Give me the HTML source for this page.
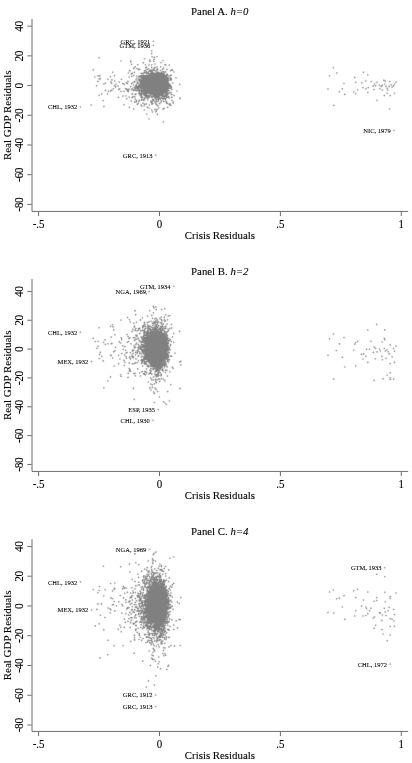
<!DOCTYPE html>
<html><head><meta charset="utf-8"><title>Figure</title>
<style>html,body{margin:0;padding:0;background:#fff;}body{width:412px;height:763px;overflow:hidden;font-family:"Liberation Serif",serif;}</style>
</head><body>
<svg width="412" height="763" viewBox="0 0 412 763" style="display:block;will-change:transform">
<defs><filter id="b" x="0" y="0" width="412" height="763" filterUnits="userSpaceOnUse"><feConvolveMatrix order="3" kernelMatrix="0.012 0.072 0.012 0.072 0.664 0.072 0.012 0.072 0.012" edgeMode="none"/></filter></defs>
<g filter="url(#b)"><path d="M146.8 76.7L150.4 75.3L154.7 73.1L159.8 72.4L164.1 73.8L167.0 77.4L168.0 82.5L167.7 87.5L165.6 91.9L161.2 94.8L156.1 95.8L151.8 94.8L148.2 91.9L144.6 89.7L141.7 87.5L140.7 84.0L141.3 80.3L143.9 78.2Z" fill="#808080" stroke="#808080" stroke-width="0.6" stroke-linejoin="round"/><path d="M147.7 91.8h0M168.5 80.8h0M143.0 87.3h0M144.4 90.9h0M157.0 97.3h0M168.5 85.1h0M165.9 80.2h0M149.1 77.0h0M156.7 94.8h0M151.4 73.7h0M157.0 96.4h0M155.1 74.1h0M166.8 86.8h0M159.3 73.9h0M153.1 94.6h0M170.6 78.8h0M163.3 92.9h0M163.7 91.3h0M142.9 94.0h0M156.7 72.0h0M140.9 87.3h0M168.9 76.2h0M147.9 77.3h0M147.9 90.5h0M143.1 90.4h0M153.3 95.7h0M167.4 90.2h0M170.3 75.3h0M156.3 94.8h0M137.3 82.9h0M142.3 91.4h0M168.0 82.5h0M164.1 72.1h0M146.5 93.8h0M162.3 74.0h0M147.2 92.4h0M167.0 86.1h0M148.3 72.0h0M159.7 94.5h0M166.0 87.4h0M167.7 89.9h0M163.9 91.3h0M144.8 77.9h0M155.2 96.4h0M142.0 81.4h0M146.5 75.2h0M159.0 95.1h0M157.7 96.6h0M147.1 95.9h0M149.6 75.3h0M149.6 76.4h0M143.0 87.7h0M166.6 89.4h0M142.4 82.2h0M150.6 95.0h0M163.6 93.4h0M157.5 72.8h0M139.9 81.5h0M142.8 87.8h0M150.8 92.6h0M161.6 73.5h0M141.0 89.0h0M162.9 96.7h0M167.2 84.3h0M166.7 85.5h0M143.3 90.3h0M146.5 90.7h0M162.6 93.5h0M167.4 86.8h0M170.0 88.5h0M141.7 78.2h0M139.6 76.1h0M166.8 76.1h0M167.5 83.8h0M146.9 75.3h0M165.7 87.8h0M167.5 77.5h0M150.9 93.1h0M170.5 86.5h0M149.4 91.8h0M152.5 75.4h0M161.0 93.4h0M167.0 89.2h0M161.3 97.8h0M142.8 87.7h0M164.2 91.4h0M146.5 76.7h0M147.1 91.4h0M166.3 87.3h0M171.2 86.6h0M151.8 72.8h0M147.4 76.6h0M143.7 90.7h0M140.1 80.6h0M168.8 84.2h0M140.2 87.7h0M148.3 90.9h0M162.4 93.5h0M162.9 94.2h0M166.8 90.5h0M168.5 83.8h0M145.5 89.4h0M141.8 92.3h0M146.6 76.8h0M166.7 87.9h0M143.7 87.7h0M137.6 88.1h0M142.2 80.4h0M151.6 75.6h0M141.7 86.3h0M141.5 86.1h0M148.0 92.9h0M168.6 84.1h0M156.2 74.1h0M167.0 78.3h0M145.4 93.2h0M144.0 93.1h0M144.7 75.9h0M142.1 82.5h0M157.6 95.5h0M150.1 75.5h0M166.0 86.7h0M160.0 94.0h0M156.8 72.6h0M162.3 74.1h0M163.5 91.6h0M149.3 74.8h0M166.7 84.7h0M145.0 94.8h0M145.0 90.9h0M168.9 80.0h0M142.2 77.6h0M155.5 98.4h0M139.9 79.4h0M142.2 78.1h0M158.1 98.1h0M151.1 92.6h0M171.0 92.3h0M152.9 74.2h0M157.0 74.1h0M167.5 75.2h0M150.5 95.4h0M150.8 74.7h0M151.1 73.1h0M140.4 83.4h0M164.9 90.5h0M155.9 97.5h0M158.5 96.2h0M167.3 85.4h0M143.7 90.6h0M144.1 79.8h0M169.5 88.1h0M147.0 91.5h0M155.7 94.5h0M143.5 90.6h0M151.3 74.7h0M151.0 75.2h0M148.3 92.0h0M140.9 87.6h0M165.4 78.1h0M147.0 77.9h0M146.4 76.2h0M137.0 86.2h0M143.4 78.9h0M163.5 92.6h0M141.7 85.2h0M167.5 81.2h0M166.5 83.2h0M151.8 97.4h0M152.0 93.6h0M150.9 70.4h0M164.6 76.3h0M149.5 93.1h0M152.9 93.7h0M166.1 84.8h0M146.6 78.0h0M151.7 93.1h0M166.4 89.6h0M169.6 84.0h0M163.0 91.6h0M169.4 92.7h0M151.7 73.9h0M142.1 79.2h0M144.2 76.0h0M165.6 89.4h0M156.5 98.9h0M146.1 96.6h0M147.7 77.5h0M144.9 90.6h0M156.7 94.2h0M171.3 75.2h0M142.6 85.8h0M141.9 97.9h0M139.5 91.6h0M156.4 96.9h0M157.3 68.9h0M167.6 79.2h0M169.1 83.8h0M148.8 77.1h0M169.0 85.3h0M166.2 85.7h0M165.1 92.1h0M148.1 75.6h0M143.6 79.4h0M171.4 78.9h0M163.5 93.4h0M140.2 90.5h0M152.2 71.1h0M153.9 70.1h0M166.4 83.0h0M147.2 96.8h0M139.9 94.0h0M138.5 83.2h0M152.2 93.9h0M141.0 86.3h0M142.3 86.9h0M143.7 87.4h0M153.4 93.8h0M143.7 88.2h0M139.4 85.8h0M169.0 88.0h0M166.9 91.7h0M146.4 77.9h0M163.3 92.0h0M153.2 69.3h0M148.5 76.2h0M153.5 73.7h0M165.3 89.5h0M166.1 86.0h0M149.2 91.8h0M167.1 78.0h0M155.3 96.3h0M153.7 94.5h0M154.2 73.4h0M168.7 85.4h0M147.1 90.6h0M156.7 96.1h0M148.5 77.3h0M147.1 90.0h0M144.5 88.4h0M145.5 90.3h0M139.3 87.2h0M147.9 98.3h0M149.3 70.4h0M145.9 91.6h0M144.6 77.3h0M156.4 74.1h0M147.1 91.8h0M151.5 74.3h0M142.3 84.0h0M168.6 84.2h0M141.2 87.9h0M152.3 73.8h0M166.9 86.4h0M171.1 80.0h0M153.0 74.0h0M167.3 93.8h0M142.8 86.7h0M158.9 98.7h0M147.1 90.5h0M162.2 93.5h0M142.8 86.4h0M163.8 76.4h0M146.8 96.6h0M140.8 81.4h0M164.4 91.7h0M151.1 74.4h0M145.5 91.6h0M148.1 92.6h0M164.1 91.5h0M164.0 91.0h0M166.1 84.3h0M151.9 71.6h0M142.2 78.2h0M142.4 87.4h0M148.5 76.4h0M163.3 96.4h0M160.9 93.9h0M146.4 90.4h0M150.0 93.7h0M147.2 93.1h0M144.5 79.4h0M167.0 93.0h0M155.3 70.8h0M167.0 82.3h0M154.0 94.9h0M148.5 96.6h0M147.8 91.6h0M166.1 87.1h0M166.9 78.5h0M142.6 97.2h0M144.7 104.2h0M153.0 96.4h0M153.5 94.5h0M142.3 86.6h0M142.5 85.6h0M145.6 76.8h0M149.2 76.5h0M166.1 86.4h0M168.4 86.0h0M167.3 88.4h0M147.9 92.3h0M165.7 95.6h0M166.9 82.7h0M143.5 88.5h0M148.6 95.9h0M159.9 93.8h0M140.5 76.2h0M152.0 71.9h0M167.6 89.2h0M166.0 78.0h0M158.0 94.7h0M148.8 91.0h0M142.1 88.6h0M141.9 90.0h0M161.5 94.2h0M166.4 85.9h0M144.6 92.9h0M142.9 86.5h0M139.2 85.0h0M170.2 77.8h0M150.9 92.5h0M166.1 88.9h0M143.9 87.9h0M147.9 91.6h0M142.3 76.6h0M146.2 89.3h0M159.2 73.6h0M141.5 84.7h0M144.3 93.5h0M138.7 86.4h0M139.8 87.1h0M168.1 86.8h0M150.8 95.5h0M162.0 92.5h0M147.8 77.1h0M166.3 91.6h0M163.0 94.3h0M139.9 76.9h0M167.4 86.5h0M149.2 91.3h0M165.2 88.6h0M147.5 76.6h0M146.7 78.1h0M151.0 96.0h0M148.9 73.5h0M137.8 86.7h0M141.7 85.5h0M145.3 91.7h0M162.1 92.9h0M165.3 88.9h0M166.3 87.5h0M148.1 96.5h0M143.1 78.0h0M151.7 75.6h0M157.6 95.7h0M165.8 89.3h0M166.5 80.6h0M139.0 87.5h0M147.1 73.4h0M160.9 94.0h0M167.1 83.5h0M149.3 97.5h0M143.3 78.3h0M146.9 75.1h0M161.1 94.4h0M143.5 90.6h0M166.8 79.4h0M167.6 83.9h0M165.0 77.7h0M146.3 78.0h0M162.0 92.3h0M145.0 97.7h0M141.3 88.4h0M151.6 73.4h0M157.0 70.3h0M152.8 94.4h0M160.2 74.0h0M149.9 93.4h0M160.1 95.1h0M142.8 77.7h0M146.0 89.5h0M137.6 87.6h0M150.0 74.0h0M142.8 86.4h0M141.7 93.9h0M141.3 88.7h0M142.4 73.7h0M165.5 89.2h0M145.6 89.8h0M168.2 86.8h0M141.6 93.3h0M149.6 92.6h0M159.7 95.3h0M141.1 73.2h0M142.6 79.0h0M147.7 76.6h0M156.9 101.7h0M168.1 93.0h0M146.9 75.9h0M148.9 90.8h0M165.4 93.4h0M141.5 80.2h0M164.0 76.1h0M171.3 87.6h0M143.3 76.6h0M147.5 77.7h0M148.0 91.5h0M142.9 79.6h0M148.5 77.3h0M138.7 87.8h0M160.5 70.5h0M162.1 96.4h0M163.5 98.7h0M143.0 87.5h0M167.2 87.7h0M148.7 77.0h0M169.7 86.2h0M151.6 71.9h0M140.1 81.3h0M138.1 103.5h0M142.1 81.6h0M146.1 98.0h0M145.6 78.5h0M147.8 95.5h0M150.1 92.2h0M168.6 96.6h0M160.7 66.8h0M149.3 96.2h0M167.6 86.9h0M164.0 73.4h0M139.5 86.6h0M144.4 92.8h0M145.8 72.7h0M169.5 104.7h0M170.7 79.0h0M157.8 96.9h0M144.4 78.6h0M133.3 89.8h0M163.0 71.6h0M169.0 84.4h0M157.3 70.1h0M138.7 85.4h0M158.0 99.7h0M152.8 74.9h0M149.9 91.6h0M166.4 96.1h0M142.9 103.5h0M138.6 79.2h0M153.7 73.0h0M151.7 97.2h0M152.9 74.4h0M157.5 73.2h0M141.1 75.5h0M158.1 73.5h0M165.7 71.8h0M165.5 88.8h0M141.7 81.7h0M162.7 69.3h0M144.2 90.0h0M165.0 99.1h0M138.6 76.8h0M145.5 95.9h0M141.7 91.8h0M140.9 94.0h0M167.3 80.1h0M142.9 80.5h0M140.2 79.1h0M145.5 88.8h0M171.8 94.7h0M172.6 70.2h0M147.2 91.9h0M171.0 88.0h0M146.7 76.1h0M158.1 94.7h0M141.6 78.1h0M156.9 96.1h0M149.0 93.9h0M149.1 93.6h0M156.4 73.2h0M154.8 97.4h0M166.4 92.7h0M144.4 99.0h0M165.8 64.7h0M146.3 95.6h0M139.1 80.2h0M142.6 86.2h0M171.8 69.9h0M144.3 98.3h0M166.2 97.3h0M146.0 75.5h0M166.2 75.5h0M156.7 74.0h0M148.2 90.9h0M133.5 85.0h0M133.1 96.6h0M133.6 68.0h0M156.2 73.5h0M143.5 93.8h0M132.1 97.6h0M144.4 70.8h0M122.8 96.1h0M159.6 95.8h0M165.8 92.9h0M141.7 91.2h0M169.0 104.2h0M141.9 86.1h0M159.2 96.0h0M164.5 92.0h0M147.5 91.4h0M166.3 101.7h0M165.0 89.2h0M145.4 70.5h0M169.3 65.1h0M169.6 85.3h0M167.6 88.6h0M145.6 67.7h0M167.3 97.3h0M135.9 93.9h0M164.5 91.0h0M156.4 73.4h0M154.4 68.6h0M143.3 100.0h0M141.5 81.1h0M155.9 97.0h0M166.4 80.8h0M141.7 106.0h0M148.2 73.1h0M171.7 97.2h0M144.3 89.4h0M152.0 104.2h0M164.3 98.1h0M148.1 92.9h0M162.7 98.6h0M172.7 83.0h0M153.2 74.6h0M166.6 80.7h0M159.7 95.3h0M162.2 94.6h0M158.3 72.4h0M133.8 90.4h0M143.1 92.0h0M167.8 91.0h0M131.1 74.0h0M148.5 91.0h0M166.2 94.8h0M162.1 92.2h0M137.4 90.5h0M161.6 73.2h0M148.4 91.3h0M131.6 64.3h0M140.0 95.0h0M154.4 96.4h0M151.0 76.2h0M170.5 80.0h0M154.1 73.6h0M165.9 92.2h0M147.2 92.0h0M167.3 74.4h0M162.6 74.1h0M148.7 91.6h0M160.9 102.1h0M139.7 93.1h0M153.0 101.0h0M164.7 95.0h0M167.9 94.4h0M139.7 79.0h0M142.2 88.8h0M163.2 95.3h0M134.0 68.6h0M162.2 93.6h0M154.7 74.2h0M148.9 76.0h0M151.2 70.0h0M171.3 78.5h0M172.1 97.2h0M171.9 100.3h0M156.2 100.1h0M139.7 69.4h0M167.9 97.2h0M152.5 93.7h0M169.4 84.0h0M147.5 90.5h0M154.1 95.6h0M136.8 76.0h0M167.0 84.0h0M152.8 73.1h0M149.9 76.6h0M161.7 72.3h0M138.9 91.8h0M139.4 93.3h0M166.7 75.6h0M141.1 81.4h0M152.5 93.8h0M157.5 96.1h0M159.0 94.2h0M164.3 97.6h0M130.6 86.6h0M137.7 87.3h0M136.0 88.2h0M149.4 70.8h0M168.9 90.6h0M168.6 78.2h0M149.1 91.7h0M165.8 76.1h0M168.3 88.6h0M145.3 93.7h0M166.7 86.1h0M157.2 97.2h0M143.8 93.9h0M139.7 90.9h0M166.6 74.2h0M148.3 91.3h0M142.2 85.2h0M144.8 77.8h0M147.4 107.3h0M157.3 68.7h0M143.0 73.3h0M164.6 76.5h0M171.9 89.4h0M141.6 91.9h0M166.6 86.2h0M167.7 82.6h0M170.4 85.3h0M134.4 72.4h0M150.7 75.2h0M170.5 70.7h0M118.1 86.1h0M164.8 76.4h0M167.3 89.5h0M147.8 91.6h0M146.0 96.3h0M134.9 102.0h0M143.9 77.5h0M136.5 84.5h0M146.4 71.9h0M137.7 64.7h0M141.0 96.9h0M146.9 77.6h0M146.9 69.4h0M146.6 79.7h0M143.6 88.0h0M145.6 86.1h0M146.2 103.9h0M144.9 82.7h0M132.0 94.0h0M127.4 90.9h0M144.7 72.6h0M143.9 94.1h0M141.5 85.3h0M146.1 84.7h0M127.5 83.5h0M146.6 95.1h0M138.6 89.9h0M138.1 90.1h0M139.9 87.4h0M141.3 84.6h0M146.5 67.0h0M142.5 75.5h0M132.2 88.5h0M141.4 81.6h0M128.3 90.1h0M130.0 70.8h0M141.7 77.1h0M144.6 94.9h0M145.8 76.2h0M135.1 89.7h0M137.2 87.6h0M136.0 85.5h0M135.2 88.1h0M143.4 92.5h0M142.7 78.4h0M142.0 90.7h0M141.7 90.3h0M140.9 85.5h0M143.7 75.2h0M130.7 61.8h0M146.1 92.9h0M136.1 79.9h0M133.0 82.5h0M134.7 96.9h0M146.1 93.4h0M129.1 89.1h0M141.3 95.7h0M143.4 80.7h0M137.2 86.7h0M140.9 93.5h0M146.9 80.1h0M134.8 81.9h0M136.4 101.7h0M141.5 83.1h0M146.2 87.6h0M127.2 89.6h0M145.6 88.7h0M142.0 91.0h0M145.2 87.3h0M144.3 110.0h0M136.9 78.2h0M144.1 81.3h0M139.4 100.3h0M146.8 83.0h0M144.5 58.7h0M138.8 101.7h0M137.0 68.6h0M140.3 83.0h0M136.5 86.9h0M135.3 94.6h0M135.3 99.1h0M144.2 95.4h0M146.7 95.2h0M137.4 86.8h0M138.6 69.4h0M144.0 73.0h0M131.8 76.2h0M144.7 83.6h0M136.5 90.6h0M141.1 87.7h0M143.3 80.8h0M134.1 87.7h0M142.5 82.1h0M144.4 77.8h0M137.0 88.7h0M143.7 92.0h0M135.4 86.4h0M139.6 84.9h0M144.6 78.4h0M141.0 94.3h0M125.9 96.0h0M143.3 80.7h0M141.8 99.8h0M130.8 61.0h0M138.8 89.0h0M129.2 97.1h0M141.2 94.8h0M137.4 104.4h0M125.6 88.7h0M140.8 87.6h0M144.1 89.5h0M145.0 90.0h0M139.2 89.5h0M141.9 96.7h0M131.5 90.0h0M137.5 90.3h0M139.2 85.6h0M136.5 100.6h0M137.5 81.2h0M126.7 98.8h0M143.9 100.4h0M135.3 90.3h0M131.6 83.6h0M132.6 93.8h0M144.2 78.5h0M138.9 93.7h0M141.7 85.4h0M134.4 81.5h0M99.1 57.8h0M121.0 61.0h0M93.3 69.8h0M94.8 77.0h0M98.1 75.9h0M99.9 75.9h0M99.1 78.8h0M100.3 78.8h0M97.8 81.4h0M96.6 85.8h0M103.9 84.0h0M105.4 83.2h0M107.9 79.2h0M110.5 76.7h0M112.7 72.2h0M114.6 75.6h0M111.9 79.9h0M110.9 82.1h0M111.6 83.2h0M114.9 81.1h0M116.0 84.3h0M114.6 85.8h0M115.6 86.9h0M105.4 90.4h0M108.3 91.3h0M110.5 90.9h0M111.9 90.1h0M113.4 88.7h0M99.1 95.2h0M101.7 94.1h0M107.6 94.1h0M103.2 100.6h0M103.9 106.6h0M91.1 105.1h0M118.5 97.4h0M119.9 88.7h0M118.8 89.4h0M121.0 91.6h0M119.2 82.1h0M121.4 79.2h0M122.9 83.6h0M124.3 84.3h0M126.5 82.9h0M128.0 81.4h0M124.0 91.3h0M126.5 88.7h0M128.4 91.6h0M124.0 104.7h0M129.4 107.3h0M133.8 109.1h0M131.3 101.1h0M134.5 102.1h0M135.2 66.8h0M143.2 62.8h0M129.4 70.5h0M128.4 73.0h0M132.3 73.4h0M133.8 75.6h0M129.1 77.0h0M151.7 51.0h0M151.7 53.6h0M152.1 56.7h0M154.4 57.4h0M157.0 56.7h0M154.0 59.4h0M153.7 61.4h0M149.7 60.0h0M150.0 61.4h0M155.0 64.0h0M151.7 64.7h0M149.0 65.1h0M143.3 62.7h0M145.4 64.7h0M148.4 68.7h0M151.7 67.4h0M155.0 67.4h0M157.0 67.0h0M161.0 62.7h0M163.0 60.7h0M165.0 64.7h0M163.7 68.0h0M167.0 69.4h0M174.0 72.0h0M157.7 69.4h0M153.0 70.7h0M150.4 71.4h0M162.5 95.4h0M145.5 96.1h0M152.0 103.8h0M155.9 103.9h0M157.7 96.6h0M154.8 95.6h0M152.6 96.3h0M168.2 97.2h0M167.2 95.1h0M155.0 95.5h0M167.4 103.0h0M159.4 103.5h0M156.6 95.3h0M160.0 95.4h0M161.2 95.4h0M164.9 96.3h0M173.3 103.1h0M154.9 96.2h0M152.9 103.5h0M153.5 95.9h0M141.3 100.1h0M155.7 96.0h0M166.0 101.9h0M159.7 98.8h0M157.3 95.7h0M151.8 102.2h0M158.9 98.3h0M164.4 96.7h0M160.3 98.5h0M154.6 96.2h0M159.1 97.2h0M157.2 97.3h0M165.6 98.6h0M163.2 99.1h0M152.1 97.3h0M152.8 99.2h0M159.8 103.6h0M161.6 95.5h0M158.3 101.0h0M150.9 101.0h0M160.7 98.5h0M155.7 102.1h0M143.1 103.3h0M154.0 100.5h0M141.0 105.0h0M144.1 106.0h0M149.0 108.0h0M149.4 105.0h0M151.0 102.4h0M152.4 100.7h0M151.7 110.0h0M152.4 112.0h0M155.0 109.4h0M155.7 111.8h0M156.4 111.0h0M157.0 105.1h0M158.0 106.0h0M158.8 108.0h0M157.0 109.4h0M146.7 114.0h0M157.4 114.4h0M149.0 119.0h0M163.3 122.0h0M163.0 109.1h0M164.1 108.3h0M167.7 107.4h0M170.8 105.4h0M170.0 103.8h0M166.8 103.4h0M173.1 102.0h0M169.4 98.0h0M174.1 95.3h0M180.0 98.7h0M171.0 94.0h0M161.7 100.7h0M158.4 100.7h0M155.0 102.0h0M153.7 99.3h0M147.7 100.0h0M160.4 99.3h0M165.7 100.0h0M163.7 101.4h0M179.8 84.3h0M180.0 98.0h0M176.0 78.0h0M177.0 91.0h0M333.4 67.7h0M329.5 75.7h0M336.8 73.1h0M328.0 89.1h0M333.8 105.3h0M344.0 83.5h0M342.3 88.8h0M339.4 91.7h0M344.8 94.4h0M354.7 77.4h0M355.7 82.3h0M353.7 92.0h0M355.7 93.7h0M357.6 90.0h0M361.8 82.8h0M363.5 72.3h0M367.8 75.0h0M365.9 81.1h0M371.2 81.6h0M363.0 87.6h0M365.9 88.8h0M368.3 87.6h0M367.8 92.5h0M373.2 85.9h0M374.6 84.0h0M377.0 82.3h0M375.6 85.7h0M373.9 89.6h0M377.0 100.2h0M379.5 85.2h0M381.2 86.4h0M382.4 85.2h0M383.8 80.3h0M385.3 81.1h0M384.8 84.0h0M386.0 86.4h0M382.4 90.0h0M384.3 95.6h0M387.2 88.3h0M387.7 90.0h0M389.2 86.4h0M389.7 81.6h0M391.1 84.7h0M392.1 87.1h0M393.6 85.9h0M394.5 84.0h0M396.0 82.0h0M394.5 93.2h0M390.2 95.6h0M389.7 109.0h0M387.2 93.2h0M380.0 88.8h0M153.4 41.2h0M153.4 45.5h0M80.4 107.0h0M155.7 155.1h0M394.0 130.5h0" stroke="#808080" stroke-width="1.65" stroke-linecap="round" fill="none"/></g>
<path d="M32.0 19.0V211.43H408.2" stroke="#484848" stroke-width="0.8" fill="none"/>
<g stroke="#3a3a3a" stroke-width="0.75" fill="none">
<path d="M27.4 26.15H31.5"/>
<path d="M27.4 55.86H31.5"/>
<path d="M27.4 85.57H31.5"/>
<path d="M27.4 115.28H31.5"/>
<path d="M27.4 144.98H31.5"/>
<path d="M27.4 174.69H31.5"/>
<path d="M27.4 204.40H31.5"/>
<path d="M38.60 211.93V216.03"/>
<path d="M159.50 211.93V216.03"/>
<path d="M280.40 211.93V216.03"/>
<path d="M401.30 211.93V216.03"/>
</g>
<g font-family='"Liberation Serif", serif' font-size="11.8" fill="#000" stroke="#000" stroke-width="0.12" text-anchor="middle">
<text letter-spacing="-0.42" transform="translate(23.0 26.45) rotate(-90) scale(0.965 1)">40</text>
<text letter-spacing="-0.42" transform="translate(23.0 56.16) rotate(-90) scale(0.965 1)">20</text>
<text letter-spacing="-0.42" transform="translate(23.0 85.87) rotate(-90) scale(0.965 1)">0</text>
<text letter-spacing="-0.42" transform="translate(23.0 115.58) rotate(-90) scale(0.965 1)">-20</text>
<text letter-spacing="-0.42" transform="translate(23.0 145.28) rotate(-90) scale(0.965 1)">-40</text>
<text letter-spacing="-0.42" transform="translate(23.0 174.99) rotate(-90) scale(0.965 1)">-60</text>
<text letter-spacing="-0.42" transform="translate(23.0 204.70) rotate(-90) scale(0.965 1)">-80</text>
<text transform="translate(38.60 227.95) scale(0.93 1)">-.5</text>
<text transform="translate(159.50 227.95) scale(0.93 1)">0</text>
<text transform="translate(280.40 227.95) scale(0.93 1)">.5</text>
<text transform="translate(401.30 227.95) scale(0.93 1)">1</text>
<text font-size="11.3" transform="translate(219.9 238.5) scale(0.96 1)">Crisis Residuals</text>
<text font-size="11.3" transform="translate(219.8 15.100000000000001) scale(0.958 1)">Panel A. <tspan font-style="italic">h=0</tspan></text>
<text font-size="11.15" transform="translate(11.05 115.22) rotate(-90) scale(0.984 1)">Real GDP Residuals</text>
</g>
<g font-family='"Liberation Serif", serif' font-size="7" fill="#000" stroke="#000" stroke-width="0.08" text-anchor="end">
<text transform="translate(150.2 43.6) scale(0.93 1)">GRC, 1921</text>
<text transform="translate(150.2 47.9) scale(0.93 1)">GTM, 1936</text>
<text transform="translate(77.2 109.4) scale(0.93 1)">CHL, 1932</text>
<text transform="translate(152.5 157.5) scale(0.93 1)">GRC, 1913</text>
<text transform="translate(390.8 132.9) scale(0.93 1)">NIC, 1979</text>
</g>
<g filter="url(#b)"><path d="M156.0 332.6L160.9 331.7L165.1 334.2L166.7 338.4L167.5 345.0L167.0 351.5L165.9 358.2L162.6 362.2L157.7 363.9L152.6 362.2L149.4 358.2L147.7 353.2L146.1 348.2L145.2 343.3L146.1 339.2L148.6 336.7L151.9 334.2Z" fill="#808080" stroke="#808080" stroke-width="0.6" stroke-linejoin="round"/><path d="M146.1 345.4h0M148.1 338.6h0M147.7 336.8h0M157.3 332.4h0M168.6 353.0h0M152.6 331.7h0M147.1 351.1h0M163.6 334.2h0M167.0 344.7h0M145.5 352.5h0M144.2 345.4h0M150.8 333.2h0M140.0 352.9h0M147.6 351.7h0M166.3 358.9h0M149.3 337.7h0M147.3 352.8h0M157.0 333.1h0M150.1 357.8h0M154.2 333.6h0M166.3 344.8h0M153.3 332.5h0M154.1 361.5h0M143.9 338.5h0M147.9 358.4h0M156.4 361.4h0M158.7 363.6h0M148.9 335.9h0M152.5 359.9h0M148.3 334.3h0M151.9 359.4h0M145.6 353.6h0M147.3 349.3h0M160.4 364.2h0M150.6 360.5h0M161.2 332.1h0M167.4 350.8h0M153.9 331.1h0M145.7 337.6h0M154.2 332.2h0M152.8 331.3h0M149.3 358.1h0M158.6 364.9h0M146.7 335.8h0M145.0 350.9h0M152.2 359.3h0M147.2 348.5h0M156.7 328.4h0M147.4 322.6h0M155.4 361.4h0M145.0 342.7h0M157.1 364.9h0M167.2 347.3h0M156.7 363.6h0M168.3 343.7h0M146.3 343.5h0M151.5 330.9h0M148.2 350.7h0M165.4 361.2h0M152.0 335.9h0M152.9 334.0h0M154.5 368.3h0M166.0 337.4h0M148.1 355.5h0M163.0 334.7h0M151.0 330.5h0M168.4 340.6h0M143.3 346.1h0M159.5 331.7h0M152.1 334.9h0M166.0 348.8h0M161.0 361.3h0M148.4 338.1h0M159.6 365.8h0M163.2 334.9h0M144.0 337.8h0M151.9 366.7h0M149.0 359.8h0M166.8 335.1h0M159.3 362.5h0M152.3 334.1h0M156.3 366.8h0M147.5 339.8h0M146.7 337.4h0M165.5 337.3h0M152.6 329.1h0M149.3 362.4h0M166.9 342.1h0M146.5 346.0h0M169.4 347.9h0M165.1 361.4h0M146.3 334.0h0M147.5 355.3h0M147.9 338.7h0M158.2 362.1h0M150.4 333.9h0M147.6 352.1h0M145.5 362.4h0M160.0 332.6h0M159.3 332.7h0M146.4 345.3h0M168.7 340.7h0M165.0 355.4h0M149.2 357.1h0M156.1 361.8h0M150.3 372.5h0M151.4 331.3h0M145.5 350.7h0M163.1 364.8h0M167.4 343.9h0M143.5 350.0h0M166.2 340.8h0M148.4 338.8h0M142.2 345.7h0M149.4 326.6h0M166.0 333.5h0M149.0 360.3h0M152.9 333.1h0M168.5 343.2h0M154.4 334.0h0M152.6 332.7h0M167.1 339.1h0M151.0 332.3h0M150.8 331.8h0M155.5 361.9h0M152.1 332.8h0M149.7 336.7h0M149.8 363.2h0M167.2 345.0h0M152.1 361.0h0M149.6 360.4h0M148.2 337.1h0M157.8 362.9h0M142.9 344.9h0M149.0 337.0h0M149.0 353.0h0M154.2 332.4h0M164.3 357.5h0M142.4 330.4h0M157.6 332.5h0M144.6 335.2h0M156.1 332.5h0M156.7 332.2h0M151.8 333.4h0M145.8 352.4h0M142.9 345.3h0M148.2 355.2h0M158.5 364.5h0M157.1 362.3h0M169.5 359.8h0M158.3 362.0h0M146.2 346.8h0M154.0 329.0h0M143.7 351.5h0M147.0 353.8h0M144.7 361.9h0M154.5 329.4h0M167.7 356.7h0M164.5 359.6h0M147.7 349.9h0M156.9 362.9h0M165.8 353.2h0M168.5 362.1h0M162.8 330.4h0M156.7 364.3h0M146.5 351.0h0M148.3 339.1h0M155.8 328.6h0M150.6 334.5h0M143.7 347.0h0M151.2 359.6h0M164.4 360.1h0M149.3 353.8h0M170.2 339.6h0M167.1 348.7h0M165.7 350.1h0M144.1 360.3h0M152.8 325.5h0M148.6 332.4h0M159.5 328.3h0M154.8 365.4h0M152.0 331.3h0M148.8 366.8h0M150.2 361.4h0M146.7 352.7h0M153.7 334.4h0M164.4 336.5h0M166.5 340.4h0M146.5 350.0h0M149.6 356.7h0M149.6 358.3h0M146.8 338.5h0M157.4 324.2h0M156.4 334.3h0M161.2 332.9h0M151.1 335.1h0M162.1 361.1h0M153.5 335.0h0M160.6 362.0h0M149.2 336.7h0M157.9 373.1h0M154.8 330.3h0M151.5 361.6h0M145.5 332.1h0M148.0 337.9h0M146.1 346.0h0M165.9 350.1h0M146.4 358.4h0M150.3 336.1h0M165.2 354.0h0M147.6 353.7h0M142.8 361.8h0M161.7 332.6h0M142.3 346.4h0M157.3 363.3h0M163.2 362.7h0M156.4 329.4h0M142.2 351.9h0M155.5 361.2h0M154.4 331.5h0M147.4 359.3h0M144.5 357.1h0M152.5 363.9h0M152.3 363.3h0M161.0 362.9h0M163.1 359.8h0M159.3 333.7h0M150.6 360.7h0M161.3 319.5h0M153.4 365.8h0M158.2 329.6h0M148.2 360.4h0M146.5 355.6h0M157.9 330.7h0M165.0 357.1h0M151.4 360.0h0M147.4 331.1h0M167.0 339.5h0M145.7 349.7h0M155.3 363.9h0M148.8 353.8h0M158.3 363.8h0M153.5 361.8h0M151.3 365.1h0M168.4 357.1h0M143.3 326.1h0M157.8 363.5h0M145.0 339.1h0M165.0 327.0h0M146.2 345.7h0M166.0 348.5h0M159.0 367.8h0M165.1 335.4h0M155.5 325.9h0M166.3 355.7h0M168.0 342.8h0M152.1 366.9h0M148.8 357.0h0M164.3 331.1h0M160.5 328.9h0M164.2 357.6h0M147.7 360.4h0M154.9 334.4h0M153.3 332.0h0M146.8 342.5h0M166.2 340.9h0M147.9 360.3h0M143.3 352.4h0M168.5 352.1h0M145.1 355.5h0M153.7 364.9h0M167.4 344.2h0M166.8 350.2h0M166.0 348.1h0M166.4 347.0h0M146.8 347.0h0M157.0 325.0h0M150.1 356.4h0M152.9 362.8h0M147.5 355.3h0M166.0 349.8h0M149.5 358.6h0M155.6 362.0h0M153.0 361.2h0M168.0 359.7h0M166.9 348.0h0M143.7 339.0h0M147.4 350.4h0M155.1 372.0h0M167.6 353.2h0M164.4 317.4h0M161.5 330.8h0M157.2 330.4h0M163.6 360.6h0M160.1 361.6h0M150.2 333.0h0M145.9 356.0h0M156.2 376.7h0M155.9 364.4h0M163.8 358.7h0M146.6 348.8h0M147.6 356.5h0M156.5 324.7h0M144.5 358.3h0M166.2 355.9h0M148.7 357.3h0M148.7 338.5h0M157.9 365.9h0M156.0 361.8h0M145.9 340.8h0M154.6 332.2h0M143.8 353.7h0M147.4 334.7h0M141.3 354.0h0M150.6 365.9h0M152.2 364.8h0M153.7 361.3h0M145.7 359.5h0M151.8 358.7h0M155.1 323.5h0M166.7 339.2h0M154.1 329.6h0M148.7 356.2h0M149.1 354.5h0M166.0 355.9h0M145.4 355.1h0M149.3 332.3h0M159.6 332.4h0M160.3 362.7h0M165.1 361.4h0M166.7 349.2h0M152.5 335.0h0M146.2 334.8h0M164.6 332.2h0M146.0 343.5h0M166.1 347.6h0M160.3 369.3h0M149.2 355.5h0M150.7 360.8h0M146.8 338.7h0M161.5 362.0h0M153.8 333.8h0M162.8 364.2h0M147.0 355.3h0M157.0 362.2h0M153.5 362.2h0M166.4 353.3h0M149.2 355.2h0M154.4 360.7h0M155.2 362.8h0M166.3 365.7h0M152.4 333.5h0M160.4 332.9h0M148.1 358.5h0M157.7 366.9h0M146.3 356.3h0M151.0 364.8h0M148.5 353.7h0M150.9 334.6h0M143.4 359.7h0M166.7 350.1h0M152.5 334.3h0M149.0 357.9h0M156.7 333.4h0M166.2 351.7h0M150.2 334.2h0M158.6 361.7h0M155.4 331.1h0M148.4 338.2h0M147.7 335.3h0M146.0 342.3h0M162.6 366.5h0M142.9 341.7h0M153.4 332.0h0M142.8 337.8h0M166.3 349.9h0M148.4 351.8h0M145.4 332.0h0M146.4 353.1h0M150.8 358.1h0M146.0 350.1h0M166.7 347.4h0M154.6 333.1h0M148.0 351.5h0M153.7 361.6h0M159.8 333.1h0M160.8 363.0h0M166.2 352.6h0M153.2 333.1h0M151.1 359.8h0M166.3 348.5h0M158.0 362.8h0M147.5 349.1h0M150.0 357.2h0M162.4 325.8h0M160.3 333.5h0M151.5 359.7h0M154.1 361.1h0M153.8 333.2h0M148.3 351.7h0M157.7 332.5h0M146.1 335.1h0M150.7 361.6h0M159.6 368.6h0M147.3 347.4h0M159.6 329.1h0M149.9 358.1h0M147.1 358.0h0M151.8 363.3h0M147.8 354.6h0M155.5 361.6h0M150.9 357.6h0M152.2 359.1h0M148.2 336.9h0M150.0 336.3h0M146.8 342.0h0M145.1 335.6h0M167.6 347.6h0M154.7 362.4h0M153.3 362.3h0M170.1 339.4h0M151.7 330.3h0M154.0 335.0h0M142.9 350.5h0M153.5 369.7h0M151.2 358.0h0M159.7 361.2h0M150.6 330.1h0M161.5 366.5h0M160.4 332.9h0M165.3 362.0h0M159.4 361.4h0M149.3 373.6h0M155.3 333.3h0M166.7 344.9h0M149.5 333.8h0M166.4 356.9h0M155.8 329.6h0M146.9 338.9h0M165.2 356.6h0M167.7 345.7h0M141.2 360.4h0M153.6 361.4h0M153.2 334.5h0M150.1 362.5h0M154.3 361.1h0M155.0 363.2h0M166.4 350.7h0M150.3 359.8h0M157.1 330.2h0M153.7 361.7h0M145.4 349.1h0M148.9 353.5h0M160.8 368.0h0M167.2 348.5h0M168.4 340.7h0M155.2 362.2h0M160.2 363.5h0M146.4 356.9h0M167.1 331.7h0M148.4 333.8h0M145.5 358.8h0M149.4 354.3h0M159.5 331.6h0M163.1 360.2h0M156.3 361.3h0M151.7 362.3h0M155.7 362.6h0M146.0 340.4h0M144.2 342.4h0M159.1 333.0h0M165.7 339.2h0M166.9 354.2h0M158.6 363.0h0M156.7 370.4h0M155.9 365.6h0M165.1 334.4h0M147.2 347.8h0M164.6 365.4h0M145.8 350.1h0M160.3 331.9h0M147.3 348.5h0M148.4 335.9h0M151.0 326.7h0M147.1 341.0h0M144.2 340.4h0M155.2 328.9h0M165.9 363.8h0M143.3 353.8h0M154.3 333.2h0M150.8 329.8h0M151.8 365.2h0M161.2 362.7h0M167.9 360.4h0M145.5 352.1h0M145.9 343.8h0M152.3 360.7h0M147.2 332.6h0M146.1 350.6h0M150.0 336.8h0M146.5 336.8h0M149.2 358.4h0M147.4 348.3h0M143.6 350.6h0M151.9 335.9h0M154.9 333.5h0M156.8 321.2h0M153.7 333.3h0M167.4 345.1h0M166.1 336.6h0M151.8 358.6h0M165.7 358.9h0M147.6 338.0h0M153.6 362.8h0M150.5 363.6h0M158.1 362.6h0M146.7 350.5h0M149.3 358.2h0M147.4 354.1h0M146.0 354.5h0M167.2 339.2h0M162.7 363.9h0M150.6 337.0h0M147.2 350.3h0M153.8 327.5h0M143.3 346.5h0M153.6 334.9h0M146.6 340.8h0M166.1 344.6h0M152.8 362.9h0M150.0 334.3h0M151.9 333.5h0M167.4 361.4h0M155.6 333.8h0M160.7 367.8h0M151.2 335.8h0M162.9 368.8h0M166.7 343.0h0M153.7 335.3h0M161.9 333.4h0M149.5 329.7h0M147.4 354.9h0M154.5 330.9h0M152.4 323.3h0M150.1 361.2h0M165.9 352.9h0M160.3 332.7h0M149.4 355.6h0M154.8 332.7h0M156.9 334.0h0M151.8 361.3h0M164.9 335.9h0M165.9 351.0h0M160.6 330.0h0M147.2 349.7h0M158.7 325.5h0M160.6 332.2h0M166.9 370.4h0M157.1 334.0h0M144.3 347.2h0M151.8 359.4h0M144.7 351.6h0M144.8 343.2h0M152.3 361.2h0M161.7 334.3h0M157.8 333.5h0M155.4 362.8h0M168.3 357.5h0M140.1 341.6h0M160.2 367.3h0M167.0 358.1h0M151.6 360.7h0M146.7 358.5h0M152.5 334.2h0M151.3 358.3h0M168.5 346.4h0M147.7 352.9h0M148.0 353.9h0M154.6 364.1h0M147.7 349.8h0M164.6 359.7h0M146.8 351.9h0M161.8 333.2h0M146.7 344.3h0M160.5 328.0h0M146.7 344.4h0M147.9 350.5h0M146.4 348.8h0M154.6 322.1h0M168.2 349.9h0M164.4 361.8h0M160.5 329.9h0M150.2 336.1h0M148.4 327.9h0M168.8 348.9h0M151.1 334.7h0M166.0 348.1h0M144.8 353.3h0M152.8 360.5h0M158.0 329.8h0M163.1 330.2h0M165.5 334.9h0M162.3 333.6h0M166.0 350.0h0M157.2 327.3h0M144.1 356.9h0M166.7 345.9h0M159.2 329.3h0M146.8 345.3h0M165.8 334.8h0M156.2 365.2h0M164.4 361.0h0M152.9 335.6h0M151.1 371.3h0M144.1 356.6h0M156.3 363.8h0M163.3 334.0h0M148.8 338.4h0M146.9 340.9h0M146.7 339.7h0M161.7 334.4h0M168.2 338.4h0M150.9 330.0h0M142.6 360.1h0M150.5 357.1h0M162.5 330.4h0M152.4 333.8h0M168.6 341.4h0M148.2 351.2h0M145.4 362.7h0M160.2 363.2h0M156.1 332.0h0M146.0 342.8h0M152.6 334.7h0M151.0 334.7h0M145.6 344.1h0M168.0 354.6h0M149.7 355.1h0M147.7 337.2h0M143.6 342.6h0M147.1 352.1h0M157.8 332.4h0M146.8 345.9h0M156.8 364.5h0M162.2 328.8h0M148.3 354.3h0M150.1 336.0h0M141.1 337.0h0M146.3 349.6h0M166.0 348.5h0M166.9 334.5h0M149.6 336.3h0M156.4 331.4h0M147.5 350.5h0M157.3 365.9h0M167.2 331.8h0M159.7 362.2h0M167.4 349.8h0M162.8 365.8h0M143.1 360.4h0M159.7 361.0h0M152.9 369.0h0M165.3 364.5h0M146.0 352.7h0M160.2 322.7h0M157.8 366.0h0M157.5 365.1h0M147.5 351.2h0M151.4 358.4h0M165.0 337.4h0M166.5 354.9h0M144.1 353.6h0M155.0 333.5h0M143.9 332.6h0M144.7 356.6h0M172.4 337.1h0M170.5 345.6h0M150.1 328.7h0M157.2 366.5h0M153.3 364.1h0M146.6 338.6h0M165.7 350.3h0M157.3 374.6h0M164.4 364.1h0M161.0 366.5h0M150.0 370.2h0M150.6 365.9h0M149.6 356.7h0M152.6 333.4h0M155.4 371.7h0M145.1 339.1h0M146.3 333.8h0M166.0 332.5h0M171.7 328.1h0M161.4 375.0h0M149.2 357.6h0M153.6 376.9h0M165.4 338.5h0M155.6 321.0h0M164.3 319.8h0M155.9 368.6h0M167.6 356.1h0M145.6 334.8h0M146.8 354.8h0M149.2 360.1h0M156.4 361.4h0M152.0 335.2h0M147.2 361.3h0M147.5 316.1h0M144.4 331.4h0M166.5 340.7h0M148.7 357.2h0M149.0 328.4h0M168.8 350.0h0M158.8 375.3h0M145.0 346.8h0M163.1 327.0h0M155.5 332.1h0M167.4 347.4h0M143.6 349.2h0M167.9 354.9h0M142.8 341.0h0M153.7 364.5h0M148.9 366.7h0M153.3 334.7h0M154.1 364.1h0M142.0 337.2h0M139.0 347.9h0M161.4 332.9h0M157.4 327.6h0M165.2 354.7h0M165.7 338.9h0M156.3 364.7h0M148.8 366.4h0M167.3 346.7h0M152.1 361.9h0M147.5 355.2h0M147.2 337.7h0M165.9 343.0h0M150.9 329.7h0M170.3 339.7h0M150.5 331.9h0M146.8 346.4h0M146.8 359.4h0M151.4 335.0h0M144.4 326.1h0M165.1 331.7h0M148.2 327.2h0M151.2 360.8h0M145.4 328.6h0M145.0 324.3h0M147.6 355.0h0M149.9 387.9h0M155.6 327.7h0M168.7 349.6h0M160.1 363.8h0M135.4 347.3h0M144.7 338.7h0M146.9 357.1h0M152.9 329.2h0M143.8 335.1h0M167.4 376.1h0M148.5 351.5h0M161.8 327.0h0M164.5 367.0h0M151.6 331.2h0M163.4 364.9h0M151.1 365.2h0M153.7 334.7h0M151.5 331.1h0M150.8 360.7h0M138.3 338.2h0M148.3 361.7h0M148.7 333.8h0M167.2 349.2h0M141.6 347.0h0M161.0 328.9h0M170.7 356.1h0M148.8 337.9h0M148.5 359.9h0M145.9 371.9h0M169.2 352.6h0M143.1 340.6h0M141.9 350.4h0M168.5 349.4h0M146.6 346.0h0M155.3 331.5h0M145.7 339.0h0M144.3 322.8h0M134.5 340.6h0M151.4 334.4h0M144.8 329.3h0M154.3 333.5h0M152.2 366.1h0M145.8 340.6h0M153.5 312.8h0M147.9 337.7h0M145.5 341.4h0M151.0 336.3h0M167.5 335.9h0M165.3 320.9h0M157.8 370.7h0M141.5 349.0h0M144.2 330.2h0M167.4 345.0h0M148.0 327.7h0M161.9 320.6h0M149.4 357.7h0M148.9 357.6h0M147.9 358.1h0M143.1 360.7h0M132.8 350.0h0M154.9 326.1h0M124.9 362.3h0M146.0 347.5h0M145.9 342.4h0M146.6 349.3h0M161.9 324.2h0M145.2 342.3h0M146.6 351.4h0M155.5 328.5h0M167.4 331.7h0M145.2 356.4h0M139.9 333.2h0M154.0 329.9h0M146.1 340.9h0M150.6 360.3h0M160.8 365.9h0M159.8 379.1h0M159.2 368.5h0M147.8 325.1h0M169.7 315.5h0M167.0 358.8h0M166.0 328.2h0M140.1 341.6h0M154.7 323.9h0M156.4 326.5h0M158.7 362.9h0M167.3 343.6h0M147.0 354.6h0M164.7 328.7h0M161.5 326.7h0M170.3 349.7h0M160.9 333.9h0M145.7 352.6h0M171.5 356.3h0M147.3 337.9h0M170.6 344.6h0M150.1 360.5h0M148.4 330.8h0M172.4 367.3h0M161.7 322.6h0M144.1 344.7h0M160.6 326.6h0M148.5 353.2h0M168.7 355.9h0M166.7 347.1h0M154.7 328.5h0M143.2 346.3h0M152.6 332.9h0M146.4 354.0h0M169.9 371.7h0M157.3 331.6h0M146.8 347.8h0M147.8 337.5h0M155.7 334.4h0M155.4 322.9h0M167.0 340.0h0M149.4 354.3h0M136.9 336.4h0M145.4 341.8h0M149.1 336.3h0M157.1 363.5h0M171.5 324.6h0M151.6 332.9h0M158.4 331.1h0M168.1 359.2h0M167.1 366.9h0M146.0 353.9h0M147.0 350.3h0M146.9 356.5h0M136.0 358.9h0M152.0 327.5h0M153.4 322.1h0M145.5 345.6h0M157.3 319.9h0M163.1 334.5h0M171.3 341.4h0M145.9 363.6h0M166.6 337.7h0M138.4 349.1h0M141.9 338.2h0M155.7 369.8h0M149.3 360.7h0M151.9 364.5h0M165.8 354.7h0M165.9 326.4h0M167.3 337.9h0M147.6 339.4h0M169.0 340.3h0M153.1 323.8h0M146.1 357.9h0M144.7 348.9h0M148.2 360.1h0M146.9 336.9h0M149.5 355.3h0M146.5 346.8h0M165.8 348.3h0M148.3 332.3h0M164.7 335.0h0M164.5 363.0h0M151.2 358.3h0M161.3 363.8h0M165.1 338.2h0M146.7 332.3h0M142.4 341.9h0M157.2 322.7h0M166.4 343.1h0M142.7 327.7h0M142.0 362.5h0M146.1 342.9h0M157.5 369.9h0M169.8 328.6h0M152.9 368.7h0M160.5 330.7h0M168.1 329.4h0M135.6 354.8h0M164.0 333.5h0M147.3 333.3h0M144.6 348.3h0M150.8 332.8h0M158.0 333.2h0M145.4 326.2h0M161.5 362.5h0M141.7 362.2h0M157.1 376.1h0M145.3 338.9h0M166.2 363.5h0M163.9 328.6h0M142.4 347.5h0M154.0 328.3h0M146.6 372.8h0M158.0 326.7h0M150.4 326.3h0M166.4 348.5h0M167.7 347.4h0M136.5 322.3h0M142.5 341.6h0M133.6 356.7h0M140.4 349.4h0M135.6 352.4h0M128.9 338.5h0M137.1 330.9h0M142.4 344.6h0M140.5 341.9h0M148.0 328.3h0M146.1 340.4h0M142.6 327.1h0M142.2 346.2h0M140.1 347.7h0M138.9 351.2h0M137.7 368.9h0M143.9 359.1h0M144.7 350.5h0M133.6 350.4h0M147.2 340.2h0M144.8 345.3h0M133.8 323.2h0M139.8 328.4h0M136.5 343.1h0M148.0 361.2h0M141.5 337.0h0M147.6 326.0h0M133.9 373.5h0M130.0 337.7h0M144.1 333.7h0M143.1 337.1h0M147.6 328.9h0M146.2 364.3h0M134.4 347.8h0M138.5 328.5h0M141.7 360.6h0M134.6 326.0h0M127.0 334.6h0M139.0 340.0h0M143.6 373.8h0M135.0 330.6h0M136.9 335.3h0M146.9 338.3h0M144.4 358.9h0M135.2 330.1h0M140.8 349.2h0M145.6 357.3h0M132.1 331.4h0M132.1 356.2h0M145.3 352.3h0M144.4 350.6h0M138.2 347.4h0M141.6 363.5h0M134.1 363.7h0M145.7 346.7h0M146.3 361.9h0M142.0 359.3h0M135.3 339.3h0M142.6 351.9h0M129.8 356.8h0M129.6 357.5h0M134.9 337.5h0M144.3 373.4h0M132.1 355.1h0M141.3 344.3h0M144.5 337.2h0M135.2 375.8h0M139.5 333.7h0M130.6 371.2h0M130.3 322.0h0M145.4 338.5h0M141.6 342.1h0M147.8 333.4h0M128.1 336.6h0M146.6 337.8h0M146.2 354.0h0M143.2 325.4h0M142.0 371.5h0M145.9 355.1h0M141.2 357.0h0M144.6 363.9h0M142.0 349.7h0M143.1 326.8h0M140.7 331.0h0M132.7 357.5h0M145.0 345.9h0M144.5 351.4h0M146.1 339.3h0M133.2 337.7h0M139.3 340.4h0M132.3 363.8h0M127.5 317.5h0M142.3 318.0h0M137.2 350.5h0M144.9 371.3h0M126.1 353.1h0M142.3 356.4h0M143.5 330.5h0M138.7 355.5h0M139.0 345.9h0M141.8 349.1h0M144.2 340.7h0M128.2 373.4h0M144.1 363.3h0M137.1 353.1h0M146.2 353.2h0M135.8 344.6h0M133.1 353.2h0M138.2 356.3h0M138.1 344.3h0M145.9 328.0h0M144.0 347.3h0M143.9 335.8h0M144.6 356.0h0M138.5 360.7h0M147.4 356.3h0M144.0 337.2h0M147.2 350.4h0M130.4 352.8h0M128.0 377.4h0M142.6 345.7h0M143.9 358.1h0M129.2 368.6h0M134.0 345.9h0M126.1 356.6h0M134.3 327.1h0M139.7 353.4h0M141.9 342.3h0M127.0 352.5h0M137.1 362.7h0M140.5 346.2h0M147.2 359.1h0M130.5 358.9h0M142.7 366.1h0M135.9 335.3h0M133.2 357.7h0M136.9 339.1h0M145.8 374.7h0M147.5 331.0h0M140.3 347.5h0M146.0 337.8h0M144.5 333.1h0M142.2 339.6h0M132.2 351.0h0M135.3 362.9h0M143.9 346.8h0M142.4 351.7h0M131.0 343.8h0M146.6 294.0h0M145.0 354.2h0M137.5 351.9h0M129.2 362.9h0M134.9 310.9h0M135.7 314.6h0M121.0 320.1h0M129.4 319.7h0M140.3 320.0h0M99.1 327.7h0M110.5 326.2h0M112.4 324.8h0M113.0 326.9h0M113.8 329.9h0M114.9 334.7h0M111.2 337.1h0M93.3 338.3h0M95.2 341.5h0M98.1 341.5h0M105.0 339.8h0M103.6 342.2h0M105.4 344.4h0M108.0 343.7h0M111.2 343.7h0M111.9 343.3h0M98.1 346.3h0M96.9 348.3h0M100.3 352.4h0M99.6 354.6h0M101.7 356.5h0M99.1 358.5h0M103.2 360.9h0M115.6 347.3h0M114.9 350.7h0M113.8 351.7h0M110.5 355.0h0M111.2 355.6h0M112.7 358.0h0M118.5 355.3h0M121.7 353.6h0M119.9 359.0h0M118.8 363.8h0M114.1 366.0h0M124.0 360.4h0M124.3 365.5h0M124.6 355.0h0M126.5 358.2h0M121.4 337.9h0M121.7 339.6h0M119.2 341.9h0M120.7 343.0h0M122.9 345.9h0M125.0 346.6h0M123.2 349.5h0M125.8 350.2h0M127.2 342.2h0M128.7 341.5h0M110.5 376.9h0M107.9 381.1h0M103.9 387.8h0M120.7 374.7h0M121.1 376.5h0M133.5 388.4h0M134.2 399.3h0M129.4 370.9h0M130.1 369.9h0M153.3 306.4h0M154.0 307.8h0M155.9 306.9h0M156.2 309.6h0M149.7 310.7h0M161.7 309.6h0M164.7 308.8h0M135.1 310.7h0M135.5 314.7h0M151.8 315.4h0M152.6 318.3h0M154.8 319.0h0M156.2 318.3h0M159.9 318.6h0M161.3 317.1h0M165.7 314.7h0M168.2 316.1h0M167.6 319.8h0M164.9 321.2h0M140.5 320.0h0M144.6 322.4h0M148.9 321.9h0M151.1 321.2h0M158.4 321.9h0M161.3 322.7h0M163.5 324.1h0M167.1 324.1h0M143.8 326.3h0M148.2 325.6h0M138.7 329.9h0M135.8 328.5h0M132.9 329.2h0M173.7 333.6h0M168.6 330.7h0M140.9 330.7h0M161.9 364.5h0M160.9 364.6h0M159.0 364.8h0M158.1 366.0h0M160.2 372.8h0M160.6 368.7h0M155.5 375.0h0M159.5 365.8h0M156.7 369.7h0M159.0 364.8h0M157.0 367.6h0M154.7 366.5h0M157.6 365.7h0M155.9 367.0h0M150.8 368.5h0M156.0 365.6h0M160.0 366.1h0M155.4 364.6h0M158.4 365.2h0M158.5 364.4h0M151.7 365.2h0M156.4 371.3h0M158.3 364.5h0M165.8 364.5h0M153.0 365.2h0M157.2 366.1h0M155.0 374.5h0M160.1 364.4h0M155.2 364.6h0M147.9 365.1h0M153.6 366.4h0M159.0 368.2h0M161.0 364.2h0M147.2 366.3h0M151.8 364.8h0M151.9 379.9h0M164.4 364.8h0M157.7 367.6h0M155.9 365.7h0M158.4 366.8h0M161.1 367.3h0M161.0 375.6h0M160.8 366.2h0M157.8 368.7h0M154.6 365.1h0M159.3 365.8h0M161.5 364.4h0M157.1 364.5h0M156.7 365.5h0M157.6 365.4h0M150.9 371.0h0M157.9 366.7h0M157.2 370.7h0M157.0 375.1h0M156.2 367.7h0M154.1 367.8h0M158.5 364.7h0M162.4 364.5h0M151.5 365.1h0M159.4 364.2h0M158.8 366.5h0M162.5 366.7h0M160.0 366.4h0M150.2 365.1h0M156.6 374.9h0M165.4 370.1h0M159.4 370.7h0M157.6 367.6h0M151.9 374.3h0M151.1 369.0h0M158.2 375.9h0M153.2 364.1h0M158.3 365.7h0M158.5 369.5h0M157.9 367.7h0M154.6 368.4h0M158.0 369.8h0M158.5 365.1h0M163.2 370.9h0M158.3 373.6h0M152.2 364.1h0M157.8 367.0h0M158.3 370.7h0M156.5 366.0h0M157.9 364.5h0M156.9 364.2h0M165.4 372.6h0M155.9 364.3h0M161.5 367.3h0M157.3 365.5h0M146.4 368.9h0M159.9 368.5h0M154.3 364.5h0M154.7 365.8h0M158.8 372.2h0M156.4 367.8h0M150.8 373.5h0M161.4 374.2h0M161.2 366.0h0M156.0 368.6h0M159.4 366.4h0M157.1 370.6h0M160.7 364.2h0M151.5 366.2h0M162.0 369.9h0M149.0 374.0h0M155.0 374.0h0M158.4 375.4h0M161.0 375.8h0M150.4 378.0h0M151.7 379.4h0M153.7 380.0h0M155.7 379.4h0M157.0 380.0h0M158.4 379.0h0M161.7 378.7h0M163.7 379.4h0M165.0 381.0h0M148.4 382.0h0M151.0 384.0h0M152.4 384.7h0M154.4 383.8h0M155.7 381.6h0M156.4 382.7h0M159.7 381.4h0M149.7 388.0h0M152.4 387.4h0M155.0 388.0h0M156.1 389.4h0M151.0 390.0h0M153.7 392.0h0M154.4 393.4h0M157.7 391.6h0M167.7 391.6h0M170.8 384.7h0M180.0 388.4h0M159.3 397.0h0M154.4 402.5h0M163.3 401.7h0M165.0 403.0h0M166.4 404.5h0M169.3 401.0h0M180.8 361.3h0M173.1 368.3h0M140.3 376.0h0M145.0 374.7h0M139.7 372.7h0M142.3 371.7h0M135.0 373.4h0M179.7 362.1h0M173.7 342.3h0M179.6 331.4h0M180.8 364.8h0M175.0 353.1h0M333.4 334.0h0M329.5 338.8h0M344.0 337.6h0M339.4 343.9h0M336.3 350.5h0M328.0 355.3h0M342.3 357.3h0M344.8 367.0h0M333.8 379.1h0M355.7 365.8h0M353.7 350.0h0M354.7 344.2h0M355.7 342.7h0M357.6 341.3h0M361.5 354.4h0M363.7 353.9h0M363.0 359.0h0M365.9 356.3h0M367.8 362.4h0M366.6 349.3h0M369.5 349.3h0M367.8 330.1h0M376.8 324.3h0M384.8 329.9h0M371.0 341.3h0M374.1 347.1h0M375.6 348.3h0M373.4 352.4h0M377.0 351.9h0M379.5 349.0h0M380.4 351.0h0M375.3 358.7h0M381.9 356.3h0M382.4 359.7h0M382.1 342.0h0M384.3 338.3h0M384.8 339.8h0M384.3 348.5h0M385.3 351.0h0M386.8 350.0h0M388.2 351.7h0M389.2 353.9h0M386.0 358.3h0M390.2 344.9h0M392.1 356.8h0M393.6 348.5h0M394.5 351.2h0M396.0 346.1h0M390.2 363.6h0M394.5 362.4h0M390.2 372.8h0M387.2 375.2h0M390.2 377.7h0M393.6 379.1h0M390.2 379.6h0M383.1 378.9h0M374.1 380.3h0M173.8 286.2h0M149.1 291.6h0M80.4 332.2h0M91.5 361.6h0M158.3 409.6h0M153.0 420.2h0" stroke="#808080" stroke-width="1.65" stroke-linecap="round" fill="none"/></g>
<path d="M32.0 279.0V471.43H408.2" stroke="#484848" stroke-width="0.8" fill="none"/>
<g stroke="#3a3a3a" stroke-width="0.75" fill="none">
<path d="M27.4 291.45H31.5"/>
<path d="M27.4 320.28H31.5"/>
<path d="M27.4 349.12H31.5"/>
<path d="M27.4 377.95H31.5"/>
<path d="M27.4 406.78H31.5"/>
<path d="M27.4 435.62H31.5"/>
<path d="M27.4 464.45H31.5"/>
<path d="M38.60 471.93V476.03000000000003"/>
<path d="M159.50 471.93V476.03000000000003"/>
<path d="M280.40 471.93V476.03000000000003"/>
<path d="M401.30 471.93V476.03000000000003"/>
</g>
<g font-family='"Liberation Serif", serif' font-size="11.8" fill="#000" stroke="#000" stroke-width="0.12" text-anchor="middle">
<text letter-spacing="-0.42" transform="translate(23.0 291.75) rotate(-90) scale(0.965 1)">40</text>
<text letter-spacing="-0.42" transform="translate(23.0 320.58) rotate(-90) scale(0.965 1)">20</text>
<text letter-spacing="-0.42" transform="translate(23.0 349.42) rotate(-90) scale(0.965 1)">0</text>
<text letter-spacing="-0.42" transform="translate(23.0 378.25) rotate(-90) scale(0.965 1)">-20</text>
<text letter-spacing="-0.42" transform="translate(23.0 407.08) rotate(-90) scale(0.965 1)">-40</text>
<text letter-spacing="-0.42" transform="translate(23.0 435.92) rotate(-90) scale(0.965 1)">-60</text>
<text letter-spacing="-0.42" transform="translate(23.0 464.75) rotate(-90) scale(0.965 1)">-80</text>
<text transform="translate(38.60 487.95) scale(0.93 1)">-.5</text>
<text transform="translate(159.50 487.95) scale(0.93 1)">0</text>
<text transform="translate(280.40 487.95) scale(0.93 1)">.5</text>
<text transform="translate(401.30 487.95) scale(0.93 1)">1</text>
<text font-size="11.3" transform="translate(219.9 498.5) scale(0.96 1)">Crisis Residuals</text>
<text font-size="11.3" transform="translate(219.8 275.1) scale(0.958 1)">Panel B. <tspan font-style="italic">h=2</tspan></text>
<text font-size="11.15" transform="translate(11.05 375.22) rotate(-90) scale(0.984 1)">Real GDP Residuals</text>
</g>
<g font-family='"Liberation Serif", serif' font-size="7" fill="#000" stroke="#000" stroke-width="0.08" text-anchor="end">
<text transform="translate(170.6 288.6) scale(0.93 1)">GTM, 1934</text>
<text transform="translate(145.9 294.0) scale(0.93 1)">NGA, 1969</text>
<text transform="translate(77.2 334.6) scale(0.93 1)">CHL, 1932</text>
<text transform="translate(88.3 364.0) scale(0.93 1)">MEX, 1932</text>
<text transform="translate(155.1 412.0) scale(0.93 1)">ESP, 1935</text>
<text transform="translate(149.8 422.6) scale(0.93 1)">CHL, 1930</text>
</g>
<g filter="url(#b)"><path d="M157.3 585.7L162.2 584.9L165.5 588.2L166.9 594.0L167.2 600.5L166.9 607.2L166.4 613.8L164.7 619.6L161.4 622.9L157.3 623.7L153.1 621.2L150.7 617.1L149.1 612.1L147.7 607.2L147.4 602.2L148.2 597.3L149.9 593.1L152.4 589.8L154.8 587.4Z" fill="#808080" stroke="#808080" stroke-width="0.6" stroke-linejoin="round"/><path d="M167.1 621.3h0M152.5 582.2h0M154.7 582.8h0M157.2 623.6h0M148.7 599.5h0M166.9 612.9h0M165.9 592.6h0M163.7 585.2h0M155.7 620.2h0M151.1 592.7h0M168.2 614.3h0M160.5 624.6h0M148.4 604.6h0M148.3 628.3h0M166.0 608.8h0M160.0 587.2h0M145.3 596.7h0M161.3 623.3h0M147.5 608.2h0M151.5 616.9h0M165.3 613.9h0M156.7 623.0h0M147.5 597.2h0M150.1 596.1h0M148.9 586.3h0M147.4 618.2h0M150.7 619.0h0M166.7 605.0h0M165.9 601.4h0M151.3 614.9h0M158.6 626.2h0M157.4 583.5h0M165.7 590.5h0M145.5 609.2h0M166.5 600.1h0M159.5 587.6h0M148.8 609.9h0M166.5 605.6h0M146.2 605.2h0M147.4 600.8h0M153.9 589.5h0M146.7 595.9h0M148.7 597.1h0M145.5 622.2h0M149.6 614.7h0M160.2 585.5h0M149.9 613.2h0M160.9 625.1h0M149.1 622.6h0M155.7 589.0h0M152.4 620.9h0M163.3 622.3h0M150.6 612.7h0M161.4 623.4h0M158.4 623.9h0M164.2 621.6h0M153.3 620.7h0M166.7 632.8h0M150.7 613.7h0M167.0 600.6h0M149.6 609.9h0M167.6 603.1h0M155.3 584.0h0M148.4 603.0h0M158.2 585.6h0M162.7 624.5h0M150.7 615.6h0M160.1 586.4h0M157.5 627.6h0M157.7 584.3h0M151.3 581.8h0M152.0 616.9h0M146.3 604.0h0M162.4 632.1h0M157.5 587.1h0M154.5 625.5h0M154.3 628.5h0M158.3 584.5h0M155.4 620.0h0M154.2 621.5h0M154.3 629.9h0M150.9 619.5h0M168.7 600.9h0M155.7 588.7h0M156.8 587.2h0M161.9 626.4h0M152.3 620.0h0M164.9 614.4h0M153.1 589.4h0M147.1 606.1h0M162.2 620.0h0M162.9 586.5h0M158.6 621.0h0M167.8 596.3h0M153.2 585.7h0M163.1 621.2h0M156.8 625.2h0M161.5 622.6h0M166.3 614.6h0M160.5 580.7h0M144.4 601.9h0M153.0 589.6h0M159.4 626.1h0M158.7 587.0h0M159.1 621.6h0M166.3 601.8h0M149.9 620.2h0M166.3 603.3h0M149.2 598.4h0M153.6 584.8h0M163.8 583.9h0M165.9 615.8h0M150.0 613.0h0M168.2 603.1h0M149.3 627.8h0M151.7 574.9h0M149.0 618.9h0M150.4 589.2h0M150.8 616.1h0M147.4 589.7h0M152.7 591.5h0M150.3 592.7h0M167.1 594.4h0M159.5 621.0h0M159.8 624.9h0M148.4 613.8h0M157.9 627.8h0M153.8 582.7h0M158.9 587.2h0M156.4 623.5h0M164.2 618.3h0M152.1 584.6h0M156.3 623.3h0M154.9 585.5h0M149.8 585.1h0M147.3 596.7h0M160.0 577.9h0M165.5 609.7h0M149.3 593.4h0M152.3 616.8h0M156.2 586.6h0M156.2 621.0h0M145.6 599.9h0M149.1 612.7h0M155.3 622.2h0M165.5 611.8h0M148.4 627.9h0M160.8 629.3h0M161.6 621.7h0M154.8 581.9h0M150.0 610.8h0M145.7 609.4h0M153.7 588.7h0M164.1 619.2h0M154.4 579.6h0M152.5 582.2h0M154.4 582.1h0M147.5 601.3h0M160.9 583.9h0M161.8 631.5h0M148.1 620.6h0M154.0 589.7h0M166.4 605.9h0M149.9 594.4h0M152.8 591.4h0M158.9 581.9h0M165.7 619.3h0M150.4 615.8h0M149.0 595.0h0M154.5 621.0h0M157.2 623.2h0M160.0 570.1h0M145.3 609.9h0M149.8 596.8h0M150.0 596.0h0M154.7 589.5h0M169.6 607.3h0M153.1 575.5h0M167.5 617.4h0M154.0 574.4h0M163.3 584.4h0M147.5 616.1h0M166.4 599.4h0M168.8 602.5h0M154.6 620.0h0M166.1 601.4h0M148.9 621.5h0M150.0 617.4h0M148.7 601.0h0M155.2 627.3h0M148.1 602.2h0M158.8 623.8h0M148.5 615.7h0M156.4 587.9h0M147.5 619.5h0M144.3 600.7h0M146.7 612.0h0M162.3 619.5h0M146.0 600.8h0M158.2 622.2h0M162.3 621.7h0M154.4 586.3h0M156.4 623.4h0M157.4 626.1h0M152.5 589.5h0M168.9 599.1h0M155.2 620.3h0M163.8 585.2h0M165.9 587.5h0M155.7 586.9h0M166.1 623.3h0M154.0 588.5h0M156.3 622.6h0M159.0 623.3h0M158.6 636.8h0M142.8 602.5h0M155.6 587.8h0M141.7 589.3h0M151.6 590.8h0M161.5 623.7h0M150.9 627.1h0M164.0 620.5h0M155.1 621.9h0M164.6 620.5h0M152.5 620.8h0M149.3 591.4h0M155.0 587.1h0M150.6 594.1h0M160.3 580.5h0M147.6 610.5h0M157.1 585.6h0M148.8 586.4h0M155.8 623.3h0M164.8 621.0h0M147.2 602.6h0M166.9 605.8h0M154.0 583.0h0M157.3 580.7h0M166.1 608.9h0M163.2 619.1h0M153.1 587.0h0M145.5 620.0h0M147.9 579.2h0M159.7 587.1h0M157.2 622.3h0M166.4 597.3h0M159.2 579.9h0M145.5 598.8h0M153.9 624.9h0M148.1 611.1h0M148.5 597.9h0M148.5 604.7h0M158.6 586.7h0M155.6 580.8h0M153.1 619.0h0M170.2 611.7h0M159.6 587.4h0M147.9 608.6h0M146.8 607.0h0M153.2 626.9h0M167.3 590.4h0M158.5 625.1h0M152.5 627.1h0M155.0 620.2h0M159.3 623.5h0M165.1 622.3h0M153.1 622.8h0M153.7 626.8h0M149.7 611.1h0M167.6 609.1h0M166.6 607.0h0M160.8 587.1h0M169.1 612.0h0M148.2 611.5h0M162.9 619.0h0M149.3 622.4h0M141.8 603.9h0M164.5 588.4h0M164.8 614.0h0M156.0 624.3h0M163.4 618.4h0M156.3 626.4h0M150.3 625.7h0M155.5 620.2h0M148.2 614.0h0M149.0 592.6h0M168.9 605.7h0M164.3 619.0h0M149.0 626.0h0M152.0 586.5h0M158.0 625.7h0M153.5 625.2h0M153.6 586.5h0M150.9 616.3h0M146.4 601.2h0M144.5 618.4h0M150.4 593.5h0M150.7 594.0h0M161.7 587.3h0M158.5 576.5h0M157.1 623.6h0M146.1 623.9h0M149.3 597.1h0M165.1 613.4h0M167.0 608.7h0M148.7 600.0h0M155.4 625.4h0M154.4 620.3h0M155.7 579.2h0M155.2 623.0h0M164.0 587.5h0M166.2 594.8h0M158.9 628.2h0M154.4 621.1h0M151.7 619.9h0M150.5 613.0h0M145.4 596.5h0M164.0 620.8h0M154.6 585.6h0M148.1 612.2h0M157.4 623.4h0M166.6 600.2h0M153.0 588.6h0M148.5 608.2h0M167.3 595.0h0M162.1 625.9h0M155.9 586.5h0M151.8 617.9h0M160.3 623.0h0M150.4 594.3h0M151.9 587.4h0M157.8 626.7h0M159.3 625.7h0M147.8 603.0h0M157.3 580.8h0M154.5 630.3h0M162.6 582.1h0M154.6 623.9h0M167.0 608.2h0M146.2 584.0h0M151.7 592.5h0M161.7 623.9h0M156.0 622.3h0M159.2 574.8h0M148.7 618.3h0M150.0 595.4h0M165.5 613.9h0M150.7 594.1h0M160.2 624.5h0M158.7 583.1h0M166.9 607.3h0M166.2 616.8h0M167.6 612.4h0M165.8 612.3h0M162.2 621.8h0M168.7 622.1h0M156.9 624.5h0M154.8 624.9h0M149.4 617.7h0M146.5 594.7h0M160.5 586.5h0M161.5 624.4h0M155.6 621.1h0M147.8 586.7h0M157.3 586.0h0M148.6 622.1h0M165.9 612.8h0M149.4 620.2h0M148.0 601.9h0M166.7 596.6h0M158.4 621.8h0M158.3 585.2h0M169.5 618.9h0M146.7 593.9h0M154.6 620.6h0M154.4 580.6h0M160.6 584.9h0M149.2 596.6h0M146.9 593.9h0M156.8 579.4h0M146.7 613.1h0M163.8 588.2h0M152.3 591.6h0M149.2 595.6h0M154.3 622.1h0M150.7 593.8h0M158.3 621.3h0M166.1 610.3h0M145.8 604.1h0M151.0 590.7h0M148.6 622.8h0M152.9 621.2h0M166.4 601.5h0M151.6 579.3h0M152.4 591.0h0M148.1 590.6h0M161.0 582.1h0M155.1 627.0h0M147.2 600.1h0M148.3 601.2h0M157.0 626.1h0M160.6 577.1h0M167.8 625.3h0M148.3 634.4h0M163.6 585.1h0M163.9 621.4h0M158.8 584.8h0M156.2 620.7h0M158.0 583.2h0M151.8 624.1h0M148.2 596.6h0M163.6 584.1h0M147.6 587.8h0M154.2 587.8h0M164.3 619.2h0M155.2 620.3h0M152.7 587.7h0M157.2 586.4h0M170.1 600.9h0M162.9 618.5h0M162.4 620.5h0M156.8 584.3h0M151.1 624.6h0M165.7 614.5h0M155.7 581.7h0M163.0 624.0h0M158.2 632.0h0M148.3 596.7h0M147.9 615.5h0M163.7 618.0h0M146.3 611.0h0M166.9 619.1h0M163.0 588.1h0M148.1 596.0h0M167.1 621.7h0M157.6 626.2h0M164.4 583.7h0M164.1 618.3h0M148.0 620.2h0M152.3 617.2h0M153.1 626.2h0M153.8 590.5h0M157.1 623.4h0M150.9 592.6h0M167.9 602.4h0M149.9 611.8h0M156.5 588.2h0M166.0 604.6h0M166.4 623.2h0M160.4 621.2h0M164.8 587.9h0M164.0 632.3h0M156.7 585.3h0M147.5 587.7h0M153.4 584.0h0M168.4 598.2h0M167.9 601.5h0M164.2 618.7h0M166.3 598.5h0M155.5 624.8h0M159.8 585.7h0M147.6 598.2h0M147.7 627.4h0M151.1 620.6h0M166.0 598.4h0M150.4 623.5h0M159.2 627.3h0M152.6 617.6h0M161.4 585.2h0M164.6 584.9h0M166.0 606.8h0M161.0 633.4h0M168.0 608.2h0M151.6 586.0h0M163.9 581.1h0M155.4 584.6h0M150.5 587.2h0M162.4 637.2h0M155.7 584.3h0M166.5 604.1h0M156.0 625.6h0M162.3 621.4h0M156.4 584.2h0M149.4 581.3h0M166.5 611.3h0M162.7 624.5h0M165.9 607.5h0M161.4 586.9h0M168.0 603.9h0M149.8 622.1h0M149.0 599.7h0M166.4 580.1h0M161.6 622.4h0M155.7 585.7h0M150.3 613.2h0M149.9 592.5h0M148.2 598.3h0M162.5 620.1h0M157.2 625.3h0M154.7 586.7h0M155.5 585.6h0M156.0 582.7h0M150.5 614.4h0M149.3 611.5h0M152.1 620.3h0M154.2 587.8h0M167.4 623.0h0M147.2 606.3h0M154.2 635.6h0M154.4 590.1h0M151.9 590.6h0M159.1 622.5h0M156.6 582.9h0M146.8 604.5h0M162.6 583.6h0M155.1 583.0h0M155.5 581.9h0M152.1 591.1h0M160.5 584.8h0M168.7 602.9h0M153.3 619.8h0M156.5 582.5h0M159.3 581.9h0M166.2 608.3h0M156.4 582.7h0M166.1 595.1h0M147.1 591.8h0M150.9 622.5h0M149.7 614.2h0M158.5 624.0h0M165.4 591.6h0M163.3 581.9h0M155.2 587.7h0M146.6 613.3h0M151.8 618.1h0M166.0 610.1h0M153.7 588.6h0M146.1 601.0h0M166.1 598.9h0M165.8 590.4h0M157.8 624.9h0M165.7 576.1h0M150.7 590.9h0M159.8 587.4h0M152.3 621.9h0M165.7 611.2h0M167.8 606.7h0M160.1 622.6h0M156.1 623.8h0M164.1 618.6h0M160.8 586.7h0M148.7 608.0h0M152.1 620.3h0M155.6 620.4h0M166.0 593.6h0M164.9 628.3h0M151.6 619.7h0M163.5 582.0h0M153.3 619.0h0M151.4 615.5h0M148.9 598.1h0M153.5 619.3h0M149.4 623.0h0M151.8 589.4h0M152.0 621.7h0M161.1 621.3h0M152.4 623.2h0M147.4 611.2h0M155.7 584.9h0M160.6 586.1h0M149.9 590.0h0M160.4 586.7h0M150.4 614.8h0M153.2 582.9h0M161.9 626.0h0M155.4 585.5h0M156.1 625.8h0M159.8 580.9h0M149.9 581.0h0M161.4 586.9h0M160.8 585.8h0M157.9 628.4h0M168.2 615.5h0M145.9 613.3h0M145.9 624.1h0M159.0 587.6h0M157.3 584.8h0M157.9 586.6h0M149.1 599.5h0M154.0 627.3h0M147.7 602.2h0M149.0 607.7h0M160.6 636.5h0M160.9 576.0h0M166.2 586.4h0M149.4 613.9h0M155.5 631.0h0M158.3 621.1h0M153.3 585.1h0M160.6 583.8h0M164.3 615.9h0M148.5 613.3h0M147.9 612.9h0M149.7 617.6h0M167.8 592.7h0M153.8 589.1h0M151.9 590.2h0M150.0 633.4h0M147.1 622.2h0M149.4 588.8h0M168.8 604.4h0M151.9 592.6h0M163.6 579.9h0M154.0 583.8h0M166.7 614.2h0M145.9 610.3h0M146.7 609.4h0M166.8 603.2h0M145.9 597.7h0M165.9 591.0h0M150.9 623.4h0M155.0 579.6h0M168.2 616.6h0M151.0 614.6h0M163.5 634.5h0M146.3 582.7h0M147.0 614.7h0M148.4 617.0h0M159.6 624.0h0M168.7 602.7h0M150.8 618.0h0M157.9 586.5h0M154.1 586.4h0M155.4 620.6h0M168.2 607.9h0M146.5 608.3h0M143.0 616.9h0M151.2 587.3h0M160.8 569.9h0M156.6 629.6h0M160.1 622.8h0M160.0 626.0h0M152.8 572.4h0M165.9 607.8h0M148.9 608.1h0M146.8 621.2h0M153.2 618.2h0M166.3 597.3h0M149.7 588.4h0M153.7 627.5h0M165.3 613.2h0M150.2 614.3h0M148.4 602.5h0M150.4 614.7h0M147.8 611.1h0M146.8 601.1h0M148.5 593.4h0M146.1 599.2h0M156.7 621.7h0M156.3 621.3h0M158.6 627.9h0M158.8 626.3h0M163.2 584.3h0M157.2 624.0h0M151.8 581.9h0M155.4 621.3h0M158.4 621.5h0M157.9 626.0h0M169.6 614.6h0M152.6 620.5h0M166.5 594.2h0M151.6 592.7h0M147.0 628.8h0M166.0 613.0h0M149.5 628.5h0M154.4 621.0h0M165.9 598.8h0M153.2 588.9h0M155.5 628.1h0M150.1 588.2h0M151.9 618.3h0M154.5 622.7h0M152.7 618.0h0M150.1 590.0h0M147.2 604.9h0M165.3 625.0h0M152.5 619.2h0M157.7 621.1h0M154.8 621.2h0M153.5 619.5h0M148.2 616.3h0M150.7 617.6h0M150.8 580.3h0M152.8 589.9h0M148.5 602.2h0M146.6 599.5h0M164.8 622.9h0M147.5 604.0h0M150.0 614.1h0M163.1 618.9h0M159.2 622.6h0M154.5 581.7h0M156.0 586.8h0M152.5 591.6h0M151.9 584.1h0M161.4 623.6h0M156.2 621.3h0M168.0 617.3h0M149.7 614.3h0M160.1 582.9h0M170.1 590.0h0M161.0 620.7h0M147.9 598.3h0M162.2 633.5h0M169.3 608.4h0M161.7 587.1h0M168.2 609.0h0M149.6 613.4h0M160.8 625.9h0M150.2 618.8h0M166.2 589.7h0M152.3 618.6h0M153.0 619.6h0M150.8 590.1h0M158.9 626.6h0M149.9 613.8h0M161.3 580.6h0M159.1 626.0h0M162.2 587.1h0M145.1 605.9h0M162.9 587.8h0M149.9 589.6h0M154.4 583.1h0M166.9 603.7h0M151.1 622.0h0M156.1 624.5h0M152.3 589.6h0M157.4 576.1h0M159.4 585.9h0M143.4 588.6h0M151.6 587.0h0M154.5 624.5h0M161.8 628.4h0M148.3 603.9h0M156.3 622.8h0M164.2 580.6h0M159.6 584.7h0M148.6 607.5h0M148.0 607.9h0M165.2 591.2h0M156.0 626.6h0M149.1 591.8h0M154.8 625.8h0M148.9 592.5h0M153.2 627.0h0M161.7 584.7h0M149.8 618.8h0M143.6 624.0h0M148.2 609.8h0M147.5 607.0h0M165.7 617.8h0M148.9 616.6h0M164.4 587.2h0M148.6 613.4h0M155.8 627.7h0M159.1 620.8h0M158.0 622.7h0M154.6 586.8h0M159.5 623.4h0M165.4 590.4h0M150.6 578.6h0M167.4 599.7h0M155.1 621.5h0M150.6 612.6h0M167.8 603.2h0M156.8 584.4h0M149.3 592.7h0M161.4 583.9h0M160.4 575.7h0M155.7 587.1h0M155.0 589.1h0M153.1 585.5h0M152.1 617.6h0M150.5 592.9h0M150.8 593.3h0M152.6 617.9h0M136.2 625.8h0M154.5 624.9h0M157.0 623.9h0M172.4 606.1h0M160.1 580.0h0M153.7 627.3h0M142.9 593.1h0M145.2 603.3h0M144.6 586.7h0M159.5 630.0h0M148.8 626.4h0M144.1 621.2h0M143.2 607.9h0M150.3 584.1h0M150.2 613.9h0M156.3 633.6h0M163.9 632.7h0M154.8 588.5h0M166.0 597.1h0M155.5 587.1h0M167.1 600.8h0M153.7 580.9h0M148.0 602.2h0M159.7 576.1h0M168.1 608.6h0M152.5 583.0h0M163.1 582.8h0M155.9 588.9h0M140.7 613.3h0M161.8 634.6h0M160.6 637.4h0M155.3 578.8h0M161.0 624.1h0M145.9 595.6h0M157.3 633.9h0M152.8 563.5h0M143.8 619.5h0M166.7 610.7h0M159.0 631.8h0M159.9 587.1h0M162.6 624.0h0M155.8 629.8h0M154.7 573.1h0M149.5 582.4h0M147.1 599.2h0M150.5 590.8h0M148.5 623.2h0M131.8 595.7h0M143.9 622.1h0M167.2 602.0h0M159.5 577.6h0M170.8 607.9h0M148.3 611.4h0M142.7 619.0h0M145.2 604.8h0M165.4 587.3h0M146.8 587.7h0M160.5 636.2h0M150.0 616.3h0M140.5 610.5h0M168.5 602.6h0M154.8 577.9h0M151.9 589.1h0M162.2 581.8h0M168.9 601.1h0M168.2 598.5h0M164.5 588.6h0M145.9 604.6h0M143.4 576.9h0M167.7 595.3h0M149.0 623.1h0M164.5 582.0h0M145.7 606.0h0M151.4 577.1h0M160.9 620.4h0M156.0 627.7h0M150.8 623.7h0M148.8 614.3h0M165.4 589.6h0M160.9 569.6h0M156.2 584.8h0M147.3 596.8h0M151.5 640.4h0M150.3 614.3h0M163.4 580.1h0M149.2 609.9h0M146.1 608.2h0M152.5 586.7h0M147.7 599.3h0M153.6 579.6h0M146.2 607.2h0M152.2 578.1h0M152.1 576.7h0M149.6 580.4h0M162.6 621.1h0M171.8 602.1h0M148.1 609.0h0M162.0 622.1h0M148.7 596.4h0M168.3 593.5h0M147.9 617.7h0M158.6 626.1h0M153.5 589.4h0M149.6 576.8h0M164.2 619.8h0M153.2 618.8h0M164.7 626.0h0M167.1 619.9h0M165.5 617.1h0M154.5 581.9h0M148.0 596.8h0M147.9 621.5h0M166.9 618.9h0M148.7 627.1h0M148.8 587.4h0M169.2 588.2h0M145.0 610.9h0M148.3 619.9h0M147.2 605.6h0M166.9 605.4h0M168.6 597.7h0M153.8 626.9h0M158.9 623.4h0M166.0 595.0h0M155.9 621.0h0M148.9 611.3h0M168.3 600.1h0M147.9 613.6h0M138.9 596.1h0M147.3 601.1h0M158.8 623.6h0M153.3 583.7h0M160.2 584.5h0M138.0 574.2h0M167.8 622.4h0M161.9 585.6h0M146.8 588.0h0M135.8 621.7h0M139.3 605.0h0M149.1 608.5h0M169.5 595.2h0M146.7 616.6h0M154.3 621.2h0M162.2 571.2h0M157.5 624.6h0M164.2 625.9h0M141.2 612.3h0M166.1 616.1h0M170.8 596.0h0M154.5 589.7h0M152.4 635.2h0M151.8 586.5h0M168.7 612.3h0M156.3 579.4h0M142.4 619.6h0M141.8 602.4h0M146.9 618.0h0M160.8 628.8h0M160.5 635.5h0M144.7 583.8h0M164.5 585.1h0M151.2 591.8h0M152.1 641.9h0M168.3 591.4h0M163.5 619.0h0M166.7 601.2h0M148.9 611.0h0M145.0 611.7h0M150.7 619.3h0M145.0 605.3h0M155.8 628.8h0M144.5 580.5h0M152.0 617.9h0M147.9 595.3h0M149.6 612.9h0M154.8 578.5h0M156.7 626.0h0M150.6 624.2h0M169.0 630.3h0M144.9 613.6h0M158.3 644.6h0M144.8 594.8h0M150.4 586.5h0M147.9 592.6h0M163.7 624.0h0M150.4 591.2h0M150.6 620.7h0M141.2 618.1h0M155.1 641.0h0M164.6 587.1h0M156.3 627.9h0M146.6 596.3h0M162.1 584.1h0M164.8 588.4h0M144.1 613.8h0M146.1 601.9h0M149.0 633.8h0M148.8 613.6h0M158.3 582.7h0M170.9 600.2h0M153.4 576.0h0M156.5 620.6h0M138.6 577.4h0M149.9 626.2h0M152.4 623.0h0M159.7 639.9h0M162.5 630.7h0M145.6 625.6h0M147.9 607.5h0M147.7 613.4h0M150.1 591.3h0M144.4 611.4h0M155.9 576.7h0M158.9 579.6h0M160.9 633.2h0M167.7 609.5h0M154.1 633.8h0M149.2 609.4h0M157.2 581.1h0M146.0 612.2h0M163.2 624.5h0M161.3 641.3h0M142.0 619.5h0M144.3 627.8h0M146.5 615.3h0M162.5 621.4h0M168.7 603.3h0M170.9 593.0h0M167.0 613.2h0M152.0 655.1h0M145.9 604.5h0M149.4 629.5h0M144.0 623.3h0M158.7 587.3h0M156.4 636.8h0M162.3 584.6h0M151.4 590.2h0M159.0 625.1h0M147.9 590.7h0M156.3 578.7h0M148.7 583.9h0M157.5 579.7h0M156.9 622.3h0M154.7 585.7h0M153.6 573.0h0M147.5 612.1h0M150.9 616.1h0M148.1 612.4h0M169.0 588.7h0M145.5 612.4h0M167.9 606.6h0M144.2 618.8h0M145.1 613.9h0M145.2 611.7h0M147.3 591.2h0M152.3 626.1h0M150.6 593.0h0M151.4 588.7h0M172.4 597.1h0M151.4 615.4h0M144.6 583.1h0M150.1 616.4h0M148.1 593.4h0M149.3 612.1h0M148.1 587.8h0M150.4 619.6h0M166.9 608.4h0M159.5 585.1h0M152.2 589.6h0M145.1 585.8h0M145.6 587.1h0M140.1 603.4h0M169.1 621.4h0M144.7 605.4h0M169.2 637.3h0M143.5 613.3h0M140.9 598.4h0M152.0 630.3h0M150.1 596.2h0M166.2 605.5h0M160.9 581.8h0M146.8 610.5h0M152.2 621.1h0M144.2 597.3h0M161.3 579.3h0M151.7 622.4h0M150.4 591.2h0M148.1 610.9h0M140.0 597.9h0M163.7 588.7h0M153.3 631.6h0M154.6 579.3h0M144.2 612.3h0M144.2 604.5h0M141.1 598.4h0M162.5 585.3h0M146.1 609.5h0M154.7 586.3h0M148.7 572.2h0M151.9 571.6h0M152.6 623.0h0M157.1 577.4h0M152.2 619.3h0M149.0 617.6h0M140.5 621.2h0M151.9 579.6h0M148.1 591.7h0M148.0 610.5h0M143.3 597.8h0M147.0 624.1h0M140.1 598.1h0M148.0 618.5h0M165.0 620.5h0M152.9 585.6h0M144.3 581.5h0M165.6 621.5h0M155.2 632.1h0M145.3 603.2h0M146.3 637.1h0M170.0 595.1h0M154.6 633.3h0M132.4 600.0h0M150.8 618.8h0M143.9 575.8h0M144.7 586.7h0M164.4 615.7h0M164.4 639.0h0M138.9 613.3h0M156.8 576.2h0M140.4 614.0h0M170.4 586.4h0M165.4 589.9h0M153.6 577.5h0M151.2 644.7h0M147.9 618.7h0M147.2 613.5h0M170.8 606.6h0M152.0 623.5h0M169.9 558.2h0M166.3 614.1h0M148.1 592.0h0M167.1 607.1h0M155.7 622.5h0M162.2 620.5h0M140.1 591.1h0M155.2 583.1h0M146.6 595.9h0M146.6 616.1h0M158.5 627.2h0M167.7 629.4h0M146.7 612.2h0M153.2 579.4h0M143.5 590.5h0M154.3 630.3h0M153.1 590.4h0M164.9 630.6h0M141.0 593.2h0M135.4 598.6h0M156.2 573.0h0M162.7 623.4h0M162.9 586.3h0M148.3 622.9h0M143.9 626.1h0M171.9 587.2h0M149.0 591.8h0M160.1 584.4h0M155.8 628.0h0M149.7 611.3h0M142.0 609.8h0M150.6 592.2h0M166.3 593.0h0M141.1 608.5h0M145.4 634.4h0M147.0 616.4h0M159.3 636.1h0M161.4 566.6h0M135.7 630.3h0M141.1 600.8h0M146.5 607.7h0M166.1 592.5h0M148.6 623.7h0M164.1 625.8h0M135.3 602.4h0M154.4 626.4h0M165.3 581.0h0M170.3 604.6h0M148.6 599.1h0M143.7 608.9h0M171.9 619.9h0M150.6 592.5h0M155.9 630.4h0M124.6 593.2h0M123.4 586.4h0M148.5 613.3h0M139.6 600.5h0M146.6 608.1h0M146.8 608.7h0M147.4 613.2h0M145.3 617.1h0M144.4 611.3h0M144.3 609.2h0M148.9 621.1h0M134.1 604.7h0M147.7 614.7h0M147.9 597.1h0M131.2 614.1h0M146.9 590.1h0M149.0 617.9h0M133.4 624.1h0M146.6 625.0h0M144.2 622.3h0M131.7 597.5h0M139.7 606.8h0M138.9 597.0h0M140.8 592.3h0M140.9 598.1h0M144.0 597.2h0M129.9 572.1h0M137.0 610.9h0M133.2 623.3h0M146.2 578.1h0M131.5 620.2h0M140.8 627.6h0M128.8 607.6h0M147.9 580.6h0M138.7 564.7h0M142.6 605.1h0M131.1 596.7h0M141.2 587.2h0M148.2 621.8h0M143.0 611.1h0M143.6 614.4h0M132.9 612.0h0M139.3 601.1h0M140.0 594.1h0M138.2 593.4h0M125.8 599.9h0M145.4 578.0h0M131.4 617.7h0M146.0 625.3h0M137.8 597.0h0M147.3 604.8h0M141.6 602.2h0M143.2 619.1h0M130.1 627.4h0M124.0 588.1h0M145.9 626.6h0M148.9 597.4h0M147.4 620.8h0M135.0 588.8h0M148.3 603.7h0M148.1 630.7h0M143.4 605.7h0M141.2 624.9h0M147.1 567.6h0M135.9 604.7h0M143.1 592.8h0M134.5 637.8h0M138.5 608.2h0M136.1 618.0h0M139.3 611.2h0M148.3 637.3h0M133.5 611.5h0M142.5 612.8h0M141.8 605.9h0M138.4 595.4h0M148.9 615.3h0M142.1 610.2h0M130.9 617.7h0M146.0 626.2h0M131.9 603.4h0M147.9 613.2h0M134.4 617.5h0M128.8 618.8h0M135.8 614.9h0M141.0 619.0h0M138.5 610.3h0M142.2 620.6h0M141.6 617.4h0M142.6 628.6h0M147.6 602.3h0M148.2 602.3h0M132.2 606.7h0M146.1 600.4h0M143.6 589.7h0M141.5 616.7h0M146.3 617.7h0M143.8 617.5h0M130.5 622.2h0M143.8 617.1h0M135.8 562.7h0M137.7 596.8h0M148.0 601.4h0M146.6 601.5h0M147.7 599.2h0M144.2 619.6h0M147.5 625.5h0M144.5 598.2h0M124.6 587.8h0M147.8 618.1h0M141.9 596.2h0M142.7 601.1h0M139.2 605.1h0M132.3 595.5h0M145.5 602.4h0M140.7 607.3h0M143.5 616.1h0M125.9 613.8h0M146.7 605.8h0M129.3 601.8h0M135.7 625.3h0M136.8 621.7h0M146.0 605.8h0M139.5 616.4h0M134.2 612.2h0M139.0 603.8h0M147.5 582.9h0M132.5 609.5h0M144.5 617.4h0M146.1 616.1h0M133.0 591.0h0M137.9 608.6h0M138.2 611.1h0M123.1 645.7h0M138.0 585.0h0M140.8 599.4h0M146.5 578.9h0M130.8 641.3h0M140.8 621.9h0M148.9 617.2h0M142.5 586.9h0M139.0 639.5h0M127.7 607.5h0M132.0 617.7h0M146.6 612.9h0M147.9 571.7h0M135.3 615.8h0M147.1 622.4h0M137.1 595.5h0M143.2 579.6h0M148.9 606.4h0M134.3 623.5h0M147.2 618.5h0M148.1 575.6h0M139.0 604.2h0M138.5 595.6h0M140.2 637.2h0M145.7 612.6h0M136.8 607.3h0M130.7 593.1h0M125.3 622.4h0M144.8 595.8h0M139.3 599.9h0M127.9 621.5h0M143.1 606.3h0M139.3 600.8h0M144.8 616.2h0M131.7 587.7h0M147.9 602.6h0M140.2 594.2h0M131.4 610.1h0M143.3 582.9h0M134.8 609.9h0M145.2 608.3h0M138.1 628.2h0M137.2 632.4h0M126.7 609.1h0M145.7 615.6h0M141.0 606.4h0M147.9 618.1h0M146.4 606.4h0M135.5 622.1h0M142.0 622.4h0M129.8 612.4h0M136.0 629.1h0M141.1 624.8h0M145.2 584.8h0M147.1 616.8h0M148.4 623.8h0M142.5 594.9h0M140.0 622.4h0M135.6 629.7h0M146.4 615.6h0M136.6 600.8h0M125.9 602.5h0M137.7 608.7h0M147.1 574.2h0M128.8 615.1h0M135.4 592.5h0M145.3 612.7h0M148.4 593.7h0M127.3 592.3h0M145.1 600.9h0M140.7 613.9h0M130.0 600.9h0M128.5 601.8h0M137.0 621.2h0M143.4 608.4h0M138.5 614.4h0M130.3 604.2h0M127.7 608.2h0M144.9 603.3h0M138.7 595.9h0M144.5 622.5h0M145.2 579.3h0M142.7 605.2h0M145.8 576.4h0M143.1 595.7h0M141.5 611.6h0M133.2 592.9h0M147.9 599.8h0M146.7 581.0h0M135.4 607.4h0M130.5 622.7h0M136.5 606.7h0M147.4 591.7h0M139.8 596.0h0M146.8 615.3h0M142.6 603.1h0M130.2 597.9h0M103.4 566.2h0M120.8 566.8h0M129.4 564.1h0M134.9 553.9h0M110.6 583.5h0M114.8 583.0h0M99.4 586.6h0M93.2 589.7h0M99.1 590.5h0M97.9 592.7h0M105.1 589.7h0M112.5 591.1h0M114.1 589.3h0M114.8 588.2h0M122.7 588.8h0M126.3 588.0h0M103.8 596.0h0M110.9 597.9h0M112.5 598.7h0M114.1 601.5h0M120.3 595.5h0M123.5 597.9h0M118.8 601.8h0M97.9 603.9h0M101.5 603.9h0M96.8 609.4h0M108.1 608.1h0M110.1 608.9h0M110.9 609.7h0M112.5 605.0h0M113.3 604.5h0M116.4 605.8h0M110.1 612.8h0M114.8 610.9h0M121.9 604.2h0M122.7 605.8h0M121.9 613.1h0M100.4 615.2h0M104.9 617.5h0M95.2 625.9h0M99.1 623.8h0M103.8 629.8h0M124.3 619.1h0M119.9 625.1h0M120.8 627.3h0M118.3 629.3h0M121.1 631.7h0M124.3 627.3h0M108.1 640.3h0M114.1 645.8h0M107.8 654.8h0M99.9 657.9h0M134.2 653.2h0M142.8 661.0h0M134.5 635.3h0M139.2 635.3h0M134.8 640.0h0M155.9 552.1h0M154.0 553.4h0M153.3 554.6h0M135.1 553.8h0M173.7 557.0h0M152.6 558.9h0M153.3 560.4h0M148.2 561.1h0M152.6 562.1h0M155.5 561.1h0M159.9 564.0h0M161.3 565.5h0M159.1 566.2h0M151.8 566.2h0M151.1 567.7h0M165.7 566.5h0M164.2 568.4h0M168.6 569.9h0M144.6 569.1h0M141.6 571.3h0M146.7 569.9h0M148.9 570.9h0M151.8 569.9h0M154.8 569.1h0M156.9 570.6h0M158.4 568.4h0M162.0 569.9h0M163.5 571.3h0M148.9 574.2h0M151.1 573.2h0M153.3 572.8h0M155.5 573.5h0M157.7 572.8h0M159.9 573.5h0M162.8 574.2h0M165.7 573.5h0M147.5 576.4h0M143.8 577.1h0M142.4 580.8h0M138.7 582.2h0M132.2 579.3h0M135.1 581.5h0M169.3 577.9h0M173.7 583.4h0M168.6 581.5h0M135.8 585.9h0M139.5 585.1h0M161.0 643.8h0M154.6 626.1h0M153.5 631.4h0M160.0 628.5h0M161.2 630.8h0M153.8 631.0h0M158.0 637.3h0M155.6 626.4h0M149.7 637.5h0M150.0 640.6h0M152.6 633.7h0M151.0 627.7h0M159.5 626.9h0M157.9 631.2h0M163.4 630.1h0M159.6 635.4h0M159.4 629.2h0M156.9 639.4h0M151.9 627.8h0M168.7 629.5h0M154.6 631.5h0M163.3 627.3h0M155.0 628.7h0M162.1 631.5h0M149.3 634.4h0M155.6 626.9h0M154.2 628.2h0M161.2 630.7h0M159.2 630.2h0M151.0 629.3h0M155.8 629.8h0M158.8 630.0h0M162.1 629.5h0M157.1 627.8h0M162.0 631.5h0M160.2 626.3h0M141.7 640.3h0M165.5 631.4h0M143.3 626.9h0M165.9 639.5h0M166.4 633.2h0M159.9 637.1h0M160.4 632.4h0M149.3 626.6h0M154.2 638.5h0M166.2 638.0h0M160.5 629.5h0M158.6 627.7h0M157.9 627.3h0M159.6 627.2h0M162.8 636.1h0M158.8 628.9h0M166.1 637.1h0M163.3 626.2h0M152.8 626.8h0M153.6 630.7h0M159.0 637.6h0M163.8 634.5h0M156.9 640.7h0M162.2 631.6h0M156.5 628.5h0M155.0 626.4h0M149.3 635.3h0M156.2 629.2h0M146.6 626.2h0M161.8 626.3h0M164.7 627.9h0M157.4 626.9h0M139.1 633.6h0M161.4 631.3h0M152.1 627.4h0M156.7 626.2h0M158.1 630.5h0M161.3 635.6h0M158.0 630.1h0M154.2 630.9h0M144.6 634.8h0M162.2 643.6h0M156.5 629.3h0M153.1 637.3h0M161.4 628.1h0M157.6 626.6h0M165.2 635.0h0M151.8 633.7h0M151.2 638.2h0M150.3 626.3h0M148.0 632.3h0M163.6 626.9h0M164.3 631.5h0M164.0 628.6h0M160.5 634.1h0M158.4 626.7h0M154.1 630.6h0M156.2 634.9h0M157.7 629.6h0M155.4 634.1h0M157.6 631.6h0M147.0 636.6h0M163.3 629.7h0M160.4 633.3h0M164.8 629.0h0M134.4 635.3h0M139.5 635.0h0M134.4 639.7h0M143.1 638.5h0M146.7 637.2h0M133.9 653.2h0M142.8 661.2h0M149.2 651.0h0M150.4 665.6h0M180.2 645.5h0M170.8 645.5h0M169.0 646.9h0M173.7 629.5h0M173.7 625.1h0M170.0 626.6h0M154.0 645.5h0M156.2 646.2h0M159.1 646.9h0M153.3 648.4h0M154.0 649.9h0M154.8 650.9h0M153.0 652.3h0M163.5 647.7h0M164.9 648.0h0M163.5 650.6h0M162.8 653.5h0M164.9 653.8h0M165.7 655.2h0M163.8 655.7h0M153.3 655.7h0M151.8 658.3h0M152.6 659.3h0M154.0 659.6h0M155.5 661.2h0M158.8 657.1h0M159.1 661.8h0M158.1 663.7h0M157.7 666.9h0M160.6 668.8h0M166.8 669.5h0M167.9 666.3h0M168.6 665.4h0M155.9 675.8h0M148.5 680.9h0M154.3 685.1h0M146.5 687.0h0M147.5 641.8h0M149.7 642.6h0M151.1 643.3h0M152.6 641.8h0M153.3 644.0h0M154.8 641.1h0M156.9 641.8h0M158.4 640.4h0M160.6 639.7h0M161.3 642.6h0M162.8 641.1h0M164.9 643.3h0M164.2 637.5h0M166.4 636.7h0M168.6 637.5h0M160.6 637.5h0M157.7 638.2h0M151.8 639.7h0M150.4 638.2h0M148.2 640.4h0M146.0 642.6h0M172.3 584.9h0M179.1 619.3h0M180.2 619.8h0M177.4 602.1h0M176.2 620.9h0M180.8 597.6h0M179.2 603.5h0M174.5 645.9h0M173.0 609.4h0M177.6 627.9h0M150.1 693.2h0M376.8 574.3h0M384.8 576.7h0M333.4 590.0h0M329.5 592.0h0M336.8 598.8h0M339.4 598.1h0M344.0 595.6h0M342.3 607.0h0M328.0 612.6h0M333.8 613.1h0M344.8 619.4h0M353.7 590.8h0M357.6 589.3h0M355.7 597.6h0M355.7 610.7h0M354.7 616.0h0M367.8 592.0h0M363.5 600.0h0M361.5 606.1h0M365.9 607.0h0M366.6 608.7h0M369.5 610.7h0M371.0 608.3h0M367.8 613.6h0M365.9 615.5h0M363.0 616.0h0M374.1 601.2h0M376.8 597.6h0M376.8 600.5h0M373.2 618.0h0M374.6 617.0h0M375.6 625.2h0M374.1 628.4h0M379.5 612.6h0M380.4 613.1h0M382.4 615.0h0M381.9 620.4h0M384.8 592.2h0M385.3 601.7h0M384.3 608.3h0M385.3 612.1h0M386.0 615.5h0M388.2 610.7h0M389.2 607.3h0M390.2 596.6h0M390.2 598.5h0M396.0 593.0h0M393.6 609.5h0M394.5 614.6h0M390.2 618.7h0M392.1 619.2h0M394.0 621.1h0M390.2 626.5h0M394.5 626.2h0M381.9 629.6h0M383.1 634.0h0M390.2 635.0h0M387.2 640.8h0M149.4 549.2h0M80.4 582.1h0M91.5 610.0h0M155.7 695.0h0M155.7 706.6h0M384.8 567.7h0M390.2 664.1h0" stroke="#808080" stroke-width="1.65" stroke-linecap="round" fill="none"/></g>
<path d="M32.0 539.3V731.43H408.2" stroke="#484848" stroke-width="0.8" fill="none"/>
<g stroke="#3a3a3a" stroke-width="0.75" fill="none">
<path d="M27.4 546.45H31.5"/>
<path d="M27.4 576.21H31.5"/>
<path d="M27.4 605.97H31.5"/>
<path d="M27.4 635.73H31.5"/>
<path d="M27.4 665.48H31.5"/>
<path d="M27.4 695.24H31.5"/>
<path d="M27.4 725.00H31.5"/>
<path d="M38.60 731.93V736.03"/>
<path d="M159.50 731.93V736.03"/>
<path d="M280.40 731.93V736.03"/>
<path d="M401.30 731.93V736.03"/>
</g>
<g font-family='"Liberation Serif", serif' font-size="11.8" fill="#000" stroke="#000" stroke-width="0.12" text-anchor="middle">
<text letter-spacing="-0.42" transform="translate(23.0 546.75) rotate(-90) scale(0.965 1)">40</text>
<text letter-spacing="-0.42" transform="translate(23.0 576.51) rotate(-90) scale(0.965 1)">20</text>
<text letter-spacing="-0.42" transform="translate(23.0 606.27) rotate(-90) scale(0.965 1)">0</text>
<text letter-spacing="-0.42" transform="translate(23.0 636.02) rotate(-90) scale(0.965 1)">-20</text>
<text letter-spacing="-0.42" transform="translate(23.0 665.78) rotate(-90) scale(0.965 1)">-40</text>
<text letter-spacing="-0.42" transform="translate(23.0 695.54) rotate(-90) scale(0.965 1)">-60</text>
<text letter-spacing="-0.42" transform="translate(23.0 725.30) rotate(-90) scale(0.965 1)">-80</text>
<text transform="translate(38.60 747.95) scale(0.93 1)">-.5</text>
<text transform="translate(159.50 747.95) scale(0.93 1)">0</text>
<text transform="translate(280.40 747.95) scale(0.93 1)">.5</text>
<text transform="translate(401.30 747.95) scale(0.93 1)">1</text>
<text font-size="11.3" transform="translate(219.9 758.5) scale(0.96 1)">Crisis Residuals</text>
<text font-size="11.3" transform="translate(219.8 535.0999999999999) scale(0.958 1)">Panel C. <tspan font-style="italic">h=4</tspan></text>
<text font-size="11.15" transform="translate(11.05 635.37) rotate(-90) scale(0.984 1)">Real GDP Residuals</text>
</g>
<g font-family='"Liberation Serif", serif' font-size="7" fill="#000" stroke="#000" stroke-width="0.08" text-anchor="end">
<text transform="translate(146.2 551.6) scale(0.93 1)">NGA, 1969</text>
<text transform="translate(77.2 584.5) scale(0.93 1)">CHL, 1932</text>
<text transform="translate(88.3 612.4) scale(0.93 1)">MEX, 1932</text>
<text transform="translate(152.5 697.4) scale(0.93 1)">GRC, 1912</text>
<text transform="translate(152.5 709.0) scale(0.93 1)">GRC, 1913</text>
<text transform="translate(381.6 570.1) scale(0.93 1)">GTM, 1933</text>
<text transform="translate(387.0 666.5) scale(0.93 1)">CHL, 1972</text>
</g>
</svg>
</body></html>
